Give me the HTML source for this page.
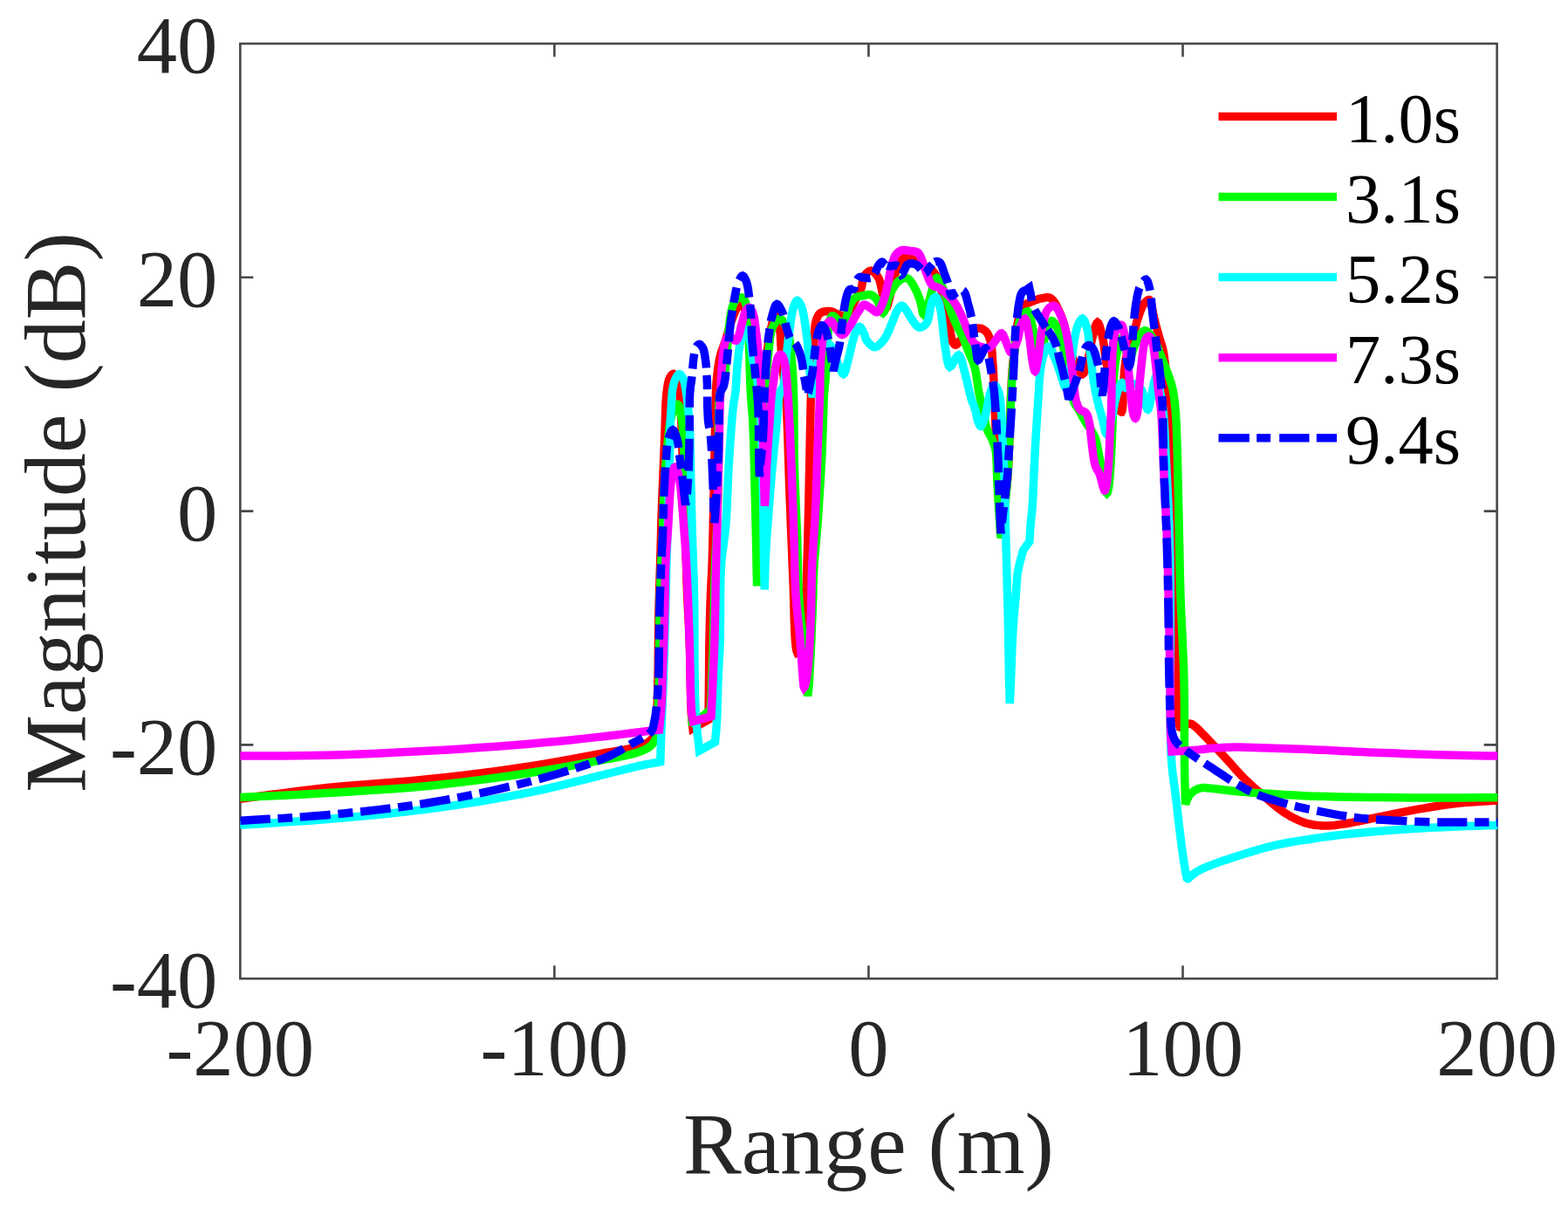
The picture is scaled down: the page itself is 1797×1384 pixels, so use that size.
<!DOCTYPE html>
<html lang="en">
<head>
<meta charset="utf-8">
<title>Magnitude vs Range</title>
<style>
html,body{margin:0;padding:0;background:#fff;}
body{width:1797px;height:1384px;overflow:hidden;}
svg{display:block;}
text{font-family:"Liberation Serif",serif;}
.tick{font-size:92.5px;fill:#262626;}
.lab{font-size:100px;fill:#262626;}
.leg{font-size:80.5px;fill:#000;}
.ax{stroke:#484848;stroke-width:2.6;fill:none;}
.c{fill:none;stroke-width:9.5;stroke-linejoin:miter;stroke-miterlimit:2;stroke-linecap:butt;}
</style>
</head>
<body>
<svg width="1797" height="1384" viewBox="0 0 1797 1384">
<rect x="0" y="0" width="1797" height="1384" fill="#fff"/>
<clipPath id="clip"><rect x="275.3" y="50" width="1441" height="1071.2"/></clipPath>
<rect class="ax" x="275.3" y="50" width="1440.3" height="1071.2"/>
<path class="ax" d="M635.375 1121.2V1106.2M635.375 50V65M995.45 1121.2V1106.2M995.45 50V65M1355.52 1121.2V1106.2M1355.52 50V65M275.3 853.4H290.3M1715.6 853.4H1700.6M275.3 585.6H290.3M1715.6 585.6H1700.6M275.3 317.8H290.3M1715.6 317.8H1700.6"/>
<g clip-path="url(#clip)">
<path class="c" stroke="#ff0000" d="M275.0 915.2L291.6 913.0L308.1 910.8L324.5 908.6L341.1 906.5L357.9 904.4L375.0 902.5L393.7 900.7L412.7 899.2L431.9 897.7L451.3 896.2L470.7 894.7L490.0 892.8L509.7 890.7L529.6 888.4L549.6 885.9L569.3 883.4L588.5 880.7L607.0 878.0L622.8 875.5L638.6 872.7L654.1 869.9L668.7 867.2L682.2 864.7L694.0 862.5L700.2 861.5L705.9 860.6L711.1 859.7L716.0 858.9L720.6 858.0L725.0 857.0L728.2 856.1L731.4 855.3L734.4 854.3L737.1 853.3L739.7 852.2L742.0 851.0L743.5 850.0L744.8 848.8L746.0 847.6L747.2 846.4L748.3 845.2L749.5 844.0L750.0 840.0L750.6 836.1L751.1 832.2L751.6 828.3L752.1 824.2L752.5 820.0L752.9 815.1L753.1 810.3L753.3 805.3L753.5 800.0L753.6 794.3L753.8 788.0L754.1 775.6L754.3 761.0L754.4 745.2L754.6 729.1L754.8 713.7L755.0 700.0L755.2 690.9L755.5 682.6L755.7 674.6L756.0 666.7L756.2 658.6L756.5 650.0L756.8 639.6L757.1 628.8L757.4 617.9L757.7 606.6L758.0 595.2L758.4 583.6L758.9 570.0L759.5 555.7L760.1 541.1L760.7 526.6L761.3 512.8L761.8 500.0L762.1 490.6L762.4 481.4L762.6 472.6L762.9 464.2L763.4 456.7L764.0 450.0L764.5 446.5L764.9 443.1L765.4 440.1L766.0 437.3L766.7 434.9L767.6 432.8L768.2 431.7L768.9 430.6L769.6 429.7L770.4 429.0L771.1 428.5L771.8 428.3L772.5 428.6L773.3 429.2L774.1 430.1L774.8 431.2L775.4 432.4L776.0 433.6L776.6 435.2L777.0 436.9L777.3 438.8L777.5 440.7L777.7 442.8L778.0 445.0L778.4 448.1L778.8 451.3L779.1 454.7L779.5 458.3L779.8 462.3L780.1 466.7L780.6 475.7L781.0 486.3L781.4 497.8L781.8 509.9L782.2 521.9L782.6 533.5L783.0 544.6L783.4 555.5L783.9 566.5L784.3 577.6L784.7 588.8L785.1 600.3L785.5 613.5L785.9 627.3L786.3 641.3L786.7 655.1L787.1 668.5L787.6 681.0L788.0 690.3L788.5 698.9L788.9 707.2L789.4 715.5L789.8 724.2L790.2 733.5L790.6 747.0L790.9 762.2L791.2 777.9L791.5 793.0L791.8 806.3L792.3 816.9L792.6 820.6L792.8 823.8L793.1 826.6L793.4 829.2L793.7 831.8L794.0 834.6L812.0 824.5L812.0 820.6L812.1 816.8L812.1 813.0L812.2 809.1L812.2 804.8L812.3 800.0L812.4 790.7L812.5 780.0L812.6 768.3L812.7 756.3L812.8 744.5L813.0 733.5L813.2 724.1L813.4 714.7L813.7 705.4L813.9 696.5L814.2 688.0L814.5 680.0L814.7 674.6L815.0 669.8L815.2 665.2L815.5 660.6L815.8 655.6L816.0 650.0L816.3 640.5L816.6 630.1L816.9 618.9L817.2 607.3L817.4 595.4L817.7 583.6L818.0 570.0L818.3 555.7L818.6 541.1L818.9 526.6L819.1 512.8L819.4 500.0L819.6 490.6L819.8 481.4L819.9 472.5L820.1 464.2L820.3 456.6L820.5 450.0L820.6 446.8L820.7 444.0L820.9 441.5L821.0 439.0L821.2 436.4L821.5 433.6L821.9 429.7L822.4 425.5L822.9 421.2L823.6 416.9L824.3 412.6L825.2 408.6L826.1 405.1L827.2 401.8L828.4 398.5L829.6 395.2L830.8 392.0L831.9 388.6L833.0 385.0L834.1 381.3L835.2 377.5L836.3 373.9L837.4 370.3L838.6 366.9L839.7 364.1L840.8 361.2L841.9 358.4L843.0 355.9L844.1 353.6L845.2 351.8L845.8 351.0L846.3 350.2L846.9 349.5L847.4 348.9L848.0 348.6L848.6 348.5L849.7 349.0L850.8 350.2L852.0 352.0L853.2 354.0L854.3 356.3L855.3 358.5L856.5 361.9L857.4 365.8L858.1 370.0L858.8 374.5L859.5 379.1L860.3 383.6L861.4 388.8L862.5 394.1L863.7 399.5L864.9 405.1L866.0 410.9L866.9 416.9L867.9 424.8L868.7 433.2L869.4 441.9L870.0 450.7L870.5 459.1L871.0 467.0L871.3 472.8L871.5 478.2L871.6 483.4L871.7 488.6L871.8 494.1L872.0 500.1L872.2 508.9L872.5 518.3L872.8 528.3L873.1 538.4L873.3 548.6L873.6 558.5L873.9 548.8L874.2 539.2L874.5 529.5L874.7 519.8L875.0 510.1L875.3 500.1L875.5 489.2L875.7 477.9L875.9 466.5L876.1 455.2L876.5 444.2L877.0 433.6L877.6 424.6L878.2 415.7L878.9 407.0L879.7 398.7L880.8 390.8L882.0 383.6L883.1 378.3L884.4 372.7L885.7 367.3L887.1 362.8L888.4 359.6L889.5 358.5L890.3 359.4L891.1 361.8L891.9 365.3L892.6 369.2L893.2 373.3L893.7 376.9L894.1 380.6L894.4 384.3L894.6 388.1L894.8 392.0L895.0 396.1L895.3 400.3L895.8 405.9L896.3 411.9L896.8 418.1L897.4 424.2L898.0 430.0L898.5 435.0L898.8 437.7L899.2 439.9L899.5 442.0L899.9 444.2L900.2 446.7L900.5 450.0L901.3 463.2L902.1 481.2L902.9 502.2L903.6 524.6L904.3 546.7L905.0 566.9L905.7 583.9L906.3 600.6L907.0 617.2L907.7 633.4L908.3 649.4L909.0 665.0L909.5 679.5L909.9 694.8L910.3 709.8L910.8 723.6L911.5 735.1L912.5 743.5L912.9 745.4L913.4 747.0L913.9 748.3L914.4 749.5L914.9 750.7L915.4 752.0L916.2 746.7L917.0 741.3L917.8 735.9L918.6 730.6L919.3 725.3L920.0 720.0L920.6 714.9L921.2 709.9L921.7 704.9L922.2 700.0L922.6 695.0L923.0 690.0L923.3 685.2L923.6 680.6L923.8 676.0L924.1 671.2L924.3 666.0L924.5 660.0L924.9 647.6L925.4 633.2L925.8 617.3L926.2 600.6L926.6 583.6L927.0 566.9L927.4 547.0L927.9 525.0L928.3 502.6L928.7 481.6L929.1 463.5L929.5 450.0L929.6 446.5L929.8 443.7L929.9 441.3L930.1 439.1L930.2 436.6L930.4 433.6L930.7 427.6L931.1 420.7L931.5 413.3L932.0 405.7L932.4 398.5L932.9 391.9L933.2 387.2L933.4 382.6L933.7 378.1L934.0 373.9L934.6 370.2L935.4 366.9L936.0 365.1L936.7 363.4L937.4 361.9L938.2 360.6L939.2 359.5L940.4 358.5L942.0 357.7L943.9 357.1L946.0 356.8L948.1 356.6L950.2 356.6L952.1 356.8L953.6 357.1L955.0 357.7L956.3 358.3L957.7 359.0L959.0 359.7L960.4 360.2L961.8 360.7L963.2 361.3L964.6 361.8L966.1 362.1L967.4 362.2L968.8 361.9L970.9 360.3L973.0 357.6L975.0 354.2L977.0 350.4L978.8 346.7L980.5 343.5L981.8 341.2L983.0 338.9L984.2 336.7L985.3 334.5L986.2 332.3L987.1 330.1L987.7 327.8L988.1 325.5L988.4 323.1L988.7 320.8L989.2 318.7L990.1 316.8L991.2 315.2L992.5 313.7L993.9 312.3L995.5 311.1L997.0 310.3L998.4 310.1L999.9 310.5L1001.4 311.5L1002.9 313.0L1004.3 314.7L1005.7 316.6L1006.8 318.4L1007.8 320.5L1008.6 322.9L1009.2 325.4L1009.8 328.1L1010.3 330.8L1010.9 333.5L1011.6 337.1L1012.2 341.4L1012.9 345.8L1013.5 349.7L1014.3 352.4L1015.1 353.5L1016.3 352.1L1017.7 348.2L1019.1 342.7L1020.7 336.5L1022.1 330.3L1023.5 325.1L1024.6 320.9L1025.5 316.6L1026.4 312.4L1027.4 308.4L1028.6 304.8L1030.1 301.8L1031.3 300.0L1032.7 298.3L1034.1 296.8L1035.6 295.6L1037.1 294.7L1038.5 294.2L1039.6 294.2L1040.7 294.4L1041.8 294.9L1042.9 295.4L1044.0 296.1L1045.2 296.7L1047.0 297.6L1048.8 298.6L1050.8 299.8L1052.8 301.0L1054.8 302.2L1056.8 303.4L1059.0 304.6L1061.4 305.8L1063.8 306.9L1066.1 308.3L1068.2 309.8L1070.2 311.8L1072.4 315.0L1074.3 318.8L1076.0 323.1L1077.4 327.7L1078.8 332.3L1080.2 336.8L1081.6 341.6L1082.8 346.7L1083.9 351.8L1084.9 356.9L1085.9 362.0L1086.9 366.9L1087.7 371.5L1088.5 376.3L1089.2 381.1L1090.0 385.4L1090.9 389.2L1091.9 391.9L1092.4 392.8L1092.9 393.6L1093.5 394.2L1094.0 394.8L1094.6 395.1L1095.2 395.2L1096.0 395.0L1096.8 394.3L1097.6 393.4L1098.5 392.3L1099.4 391.2L1100.3 390.2L1101.5 388.9L1102.8 387.5L1104.1 386.0L1105.5 384.5L1107.0 383.1L1108.6 381.9L1110.6 380.6L1112.9 379.2L1115.2 378.0L1117.6 376.9L1119.9 376.2L1122.0 376.0L1123.5 376.2L1125.1 376.6L1126.5 377.3L1127.9 378.1L1129.2 379.1L1130.3 380.2L1131.5 381.7L1132.4 383.4L1133.3 385.3L1134.0 387.4L1134.7 389.6L1135.3 391.9L1136.0 395.4L1136.6 399.4L1136.9 403.5L1137.2 407.9L1137.5 412.4L1137.8 416.9L1138.2 422.1L1138.5 427.2L1138.7 432.6L1139.0 438.1L1139.2 444.0L1139.5 450.3L1139.9 460.1L1140.3 470.8L1140.7 482.1L1141.1 493.8L1141.5 505.4L1142.0 516.8L1142.5 528.3L1143.0 540.3L1143.6 552.2L1144.1 563.7L1144.7 574.3L1145.3 583.6L1145.7 588.5L1146.0 592.8L1146.4 596.9L1146.8 600.7L1147.1 604.6L1147.5 608.6L1148.0 604.5L1148.4 600.4L1148.9 596.3L1149.3 592.2L1149.8 588.0L1150.3 583.6L1151.0 578.4L1151.7 573.1L1152.5 567.6L1153.2 562.0L1153.9 556.2L1154.5 550.2L1155.1 542.4L1155.6 534.3L1156.0 525.8L1156.3 517.2L1156.7 508.6L1157.0 500.1L1157.3 491.6L1157.6 482.9L1157.9 474.3L1158.1 465.8L1158.4 457.6L1158.7 450.0L1159.0 444.5L1159.2 439.2L1159.5 434.1L1159.8 429.2L1160.1 424.5L1160.5 420.0L1160.8 416.5L1161.2 413.3L1161.6 410.2L1162.0 407.1L1162.5 403.8L1162.9 400.3L1163.5 395.1L1164.0 389.4L1164.5 383.4L1165.2 377.5L1166.0 371.9L1167.0 366.9L1167.9 363.6L1168.8 360.4L1169.7 357.4L1170.9 354.7L1172.2 352.2L1173.7 350.2L1175.1 348.9L1176.7 347.9L1178.4 347.2L1180.2 346.5L1182.0 345.9L1183.7 345.2L1185.3 344.5L1187.0 343.8L1188.7 343.2L1190.3 342.6L1192.0 342.2L1193.7 341.8L1195.4 341.5L1197.1 341.1L1198.9 340.8L1200.6 340.7L1202.2 340.9L1203.8 341.5L1205.8 343.0L1207.8 345.3L1209.6 348.0L1211.3 351.2L1213.0 354.5L1214.5 357.8L1216.3 362.1L1217.8 366.9L1219.3 371.9L1220.6 377.0L1221.8 382.0L1223.1 386.7L1224.1 390.5L1224.9 394.2L1225.7 397.9L1226.6 401.4L1227.6 404.9L1228.9 408.4L1230.5 412.4L1232.5 416.8L1234.6 421.3L1236.7 425.1L1238.7 427.7L1240.5 428.6L1242.0 427.5L1243.3 424.8L1244.5 421.0L1245.7 416.7L1246.7 412.3L1247.7 408.4L1248.6 404.8L1249.3 401.2L1249.9 397.5L1250.5 393.8L1251.2 390.2L1252.0 386.7L1252.9 383.3L1253.8 379.5L1254.8 375.7L1255.8 372.5L1256.8 370.3L1257.8 369.4L1258.8 370.2L1259.8 372.4L1260.8 375.6L1261.8 379.3L1262.8 383.1L1263.6 386.7L1264.5 391.1L1265.2 395.8L1265.8 400.7L1266.4 405.7L1267.1 410.7L1267.9 415.6L1268.9 420.5L1270.1 425.3L1271.3 430.2L1272.5 435.1L1273.8 439.8L1275.1 444.5L1276.3 449.0L1277.5 453.8L1278.7 458.5L1279.9 462.8L1281.2 466.5L1282.4 469.1L1282.9 469.9L1283.4 470.6L1283.9 471.3L1284.4 471.7L1284.9 472.0L1285.3 472.0L1286.1 470.3L1286.6 466.5L1286.9 461.2L1287.0 455.3L1287.2 449.5L1287.4 444.5L1287.6 440.7L1287.8 437.1L1288.0 433.5L1288.3 429.9L1288.5 426.4L1288.9 422.8L1289.3 419.1L1289.8 415.4L1290.3 411.7L1291.0 408.0L1291.7 404.5L1292.5 401.2L1293.3 398.6L1294.3 396.2L1295.3 393.9L1296.3 391.6L1297.4 389.3L1298.3 386.7L1299.3 383.3L1300.2 379.7L1301.1 376.0L1302.0 372.2L1302.9 368.5L1304.0 365.0L1305.1 361.8L1306.2 358.6L1307.4 355.4L1308.6 352.4L1309.9 349.8L1311.3 347.7L1312.2 346.6L1313.2 345.5L1314.3 344.5L1315.3 343.8L1316.2 343.4L1317.1 343.4L1318.4 344.8L1319.4 347.8L1320.3 351.9L1321.1 356.4L1321.9 361.0L1322.8 365.0L1323.8 368.7L1324.7 372.4L1325.7 376.1L1326.7 379.8L1327.7 383.3L1328.6 386.7L1329.4 389.2L1330.1 391.6L1330.9 393.8L1331.6 396.1L1332.3 398.5L1332.9 401.2L1333.7 405.4L1334.4 409.9L1335.0 414.6L1335.5 419.7L1336.1 424.8L1336.6 430.1L1337.3 436.8L1337.9 443.8L1338.5 451.1L1339.1 458.5L1339.7 466.0L1340.2 473.4L1340.7 481.1L1341.2 488.9L1341.7 496.8L1342.2 504.7L1342.6 512.4L1343.0 520.0L1343.3 526.6L1343.6 532.8L1343.9 538.8L1344.1 545.2L1344.4 552.1L1344.6 560.0L1344.9 576.5L1345.2 595.9L1345.4 617.2L1345.6 639.1L1345.8 660.8L1346.2 681.0L1346.7 698.5L1347.3 716.2L1347.9 733.5L1348.5 750.2L1349.1 765.8L1349.5 780.0L1349.7 788.9L1349.7 797.4L1349.7 805.5L1349.8 812.9L1350.0 819.5L1350.5 825.0L1350.8 827.3L1351.2 829.2L1351.7 831.0L1352.1 832.6L1352.6 834.3L1353.0 836.0L1353.8 835.1L1354.6 834.2L1355.4 833.3L1356.2 832.4L1357.1 831.6L1358.0 831.0L1359.0 830.5L1360.0 830.0L1361.1 829.6L1362.2 829.3L1363.3 829.1L1364.4 829.2L1365.5 829.5L1366.6 830.1L1367.7 830.8L1368.8 831.7L1369.9 832.6L1371.0 833.5L1372.2 834.5L1373.3 835.6L1374.5 836.8L1375.6 838.0L1376.9 839.4L1378.4 840.9L1381.6 844.1L1385.3 848.0L1389.3 852.2L1393.5 856.6L1397.8 861.1L1401.8 865.4L1405.7 869.7L1409.6 874.0L1413.4 878.4L1417.3 882.8L1421.2 887.0L1425.2 891.1L1429.0 894.8L1432.9 898.4L1436.7 902.0L1440.6 905.4L1444.6 908.8L1448.5 912.2L1452.3 915.5L1456.2 918.8L1460.1 922.1L1464.0 925.2L1467.9 928.2L1471.9 930.9L1475.7 933.3L1479.5 935.5L1483.4 937.6L1487.4 939.5L1491.3 941.2L1495.3 942.6L1499.1 943.7L1503.0 944.5L1506.9 945.2L1510.8 945.6L1514.7 945.9L1518.6 946.1L1522.4 946.1L1526.2 945.8L1530.0 945.5L1533.9 944.9L1537.8 944.3L1542.0 943.7L1547.4 942.8L1553.0 941.7L1558.8 940.5L1564.8 939.3L1570.9 938.0L1577.1 936.7L1584.5 935.2L1592.2 933.6L1600.0 932.0L1608.0 930.4L1615.9 928.8L1623.8 927.4L1631.6 926.1L1639.3 924.8L1647.1 923.5L1654.9 922.4L1662.7 921.3L1670.5 920.4L1678.2 919.6L1686.0 919.0L1693.7 918.4L1701.5 917.9L1709.2 917.4L1717.0 916.9"/>
<path class="c" stroke="#00ff00" d="M275.0 913.6L291.6 912.8L308.1 912.0L324.6 911.2L341.2 910.4L357.9 909.5L375.0 908.5L393.7 907.4L412.7 906.3L432.0 905.1L451.3 903.8L470.7 902.3L490.0 900.5L509.7 898.4L529.6 896.1L549.6 893.6L569.3 891.0L588.5 888.3L607.0 885.5L622.9 883.0L638.9 880.2L654.5 877.4L669.3 874.6L682.6 872.1L694.0 870.0L699.3 869.0L704.1 868.2L708.4 867.4L712.4 866.6L716.3 865.9L720.0 865.0L722.8 864.3L725.5 863.6L728.0 862.9L730.4 862.2L732.8 861.4L735.0 860.5L736.9 859.7L738.7 858.9L740.4 858.0L742.1 857.1L743.6 856.1L745.0 855.0L746.1 854.0L747.2 853.1L748.1 852.0L749.0 850.9L749.8 849.8L750.5 848.5L751.2 847.0L751.7 845.4L752.1 843.7L752.4 842.0L752.7 840.1L753.0 838.0L753.4 834.6L753.6 830.7L753.8 826.6L753.9 822.3L754.0 817.8L754.2 813.4L754.4 808.3L754.6 803.2L754.9 797.9L755.1 792.4L755.2 786.5L755.4 780.0L755.6 768.4L755.6 755.2L755.6 741.0L755.7 726.6L755.7 712.6L755.9 700.0L756.1 690.9L756.4 682.1L756.7 673.6L757.0 665.5L757.3 657.6L757.6 650.0L757.9 644.2L758.2 638.7L758.5 633.5L758.7 628.3L759.0 622.8L759.3 617.0L759.6 609.3L759.8 601.1L760.0 592.6L760.3 584.0L760.5 575.4L760.9 566.9L761.3 558.5L761.8 550.0L762.3 541.6L762.9 533.2L763.5 524.9L764.3 516.8L765.0 509.3L765.8 501.6L766.6 494.0L767.5 486.8L768.7 480.4L770.1 475.0L771.1 472.3L772.2 469.6L773.4 467.1L774.7 465.1L775.8 463.8L776.8 463.4L777.9 464.4L778.8 466.8L779.7 470.3L780.4 474.4L781.1 478.9L781.8 483.4L782.8 492.0L783.5 501.9L783.9 512.9L784.3 524.8L784.6 537.3L785.1 550.2L785.8 570.2L786.6 592.7L787.3 616.5L788.1 640.1L788.7 662.1L789.3 681.0L789.6 691.0L789.9 699.8L790.2 708.0L790.5 716.0L790.7 724.3L791.0 733.5L791.3 747.1L791.6 762.5L791.9 778.4L792.2 793.6L792.5 806.9L792.8 817.0L792.9 820.0L793.0 822.5L793.2 824.7L793.3 826.8L793.4 828.8L793.5 831.0L814.5 812.5L814.7 808.9L814.8 805.4L815.0 801.9L815.2 798.3L815.3 794.3L815.5 790.0L815.8 782.2L816.1 773.5L816.5 764.0L816.8 754.1L817.2 743.8L817.5 733.5L817.8 720.3L818.2 706.1L818.5 691.4L818.8 676.8L819.1 662.9L819.5 650.0L819.9 641.1L820.3 632.8L820.7 624.8L821.1 616.9L821.5 608.9L821.9 600.3L822.2 589.8L822.5 579.0L822.8 568.0L823.0 556.7L823.3 545.2L823.5 533.5L823.6 519.1L823.6 503.1L823.5 486.8L823.7 471.6L824.2 458.9L825.2 450.0L825.7 448.2L826.2 446.9L826.8 445.8L827.4 444.8L828.0 443.6L828.5 442.0L829.4 437.8L830.2 432.6L830.9 426.8L831.5 420.7L832.1 414.5L832.7 408.6L833.2 402.7L833.7 396.7L834.1 390.6L834.5 384.7L835.0 378.9L835.6 373.5L836.2 369.2L836.7 364.9L837.3 360.8L838.1 356.9L838.9 353.3L839.9 350.2L840.6 348.4L841.4 346.7L842.3 345.1L843.2 343.8L844.2 342.6L845.2 341.8L846.0 341.4L846.9 341.0L847.8 340.8L848.7 340.7L849.5 340.8L850.3 341.0L851.1 341.5L851.9 342.2L852.6 343.2L853.3 344.3L853.9 345.5L854.4 346.8L855.2 349.3L855.7 352.4L856.1 355.7L856.3 359.3L856.6 363.1L856.9 366.9L857.3 371.9L857.6 377.2L857.9 382.7L858.1 388.4L858.4 394.3L858.6 400.3L858.9 408.1L859.1 416.5L859.4 425.2L859.6 433.8L859.9 442.2L860.3 450.0L860.7 455.8L861.1 461.1L861.5 466.2L862.0 471.4L862.4 477.0L862.8 483.4L863.3 495.0L863.8 508.1L864.2 522.2L864.6 537.0L864.9 552.0L865.3 566.9L865.7 583.7L866.1 600.9L866.5 618.5L866.9 636.2L867.2 653.9L867.6 671.5L867.8 662.6L868.0 653.8L868.1 645.0L868.3 636.0L868.5 626.8L868.8 617.0L869.2 604.1L869.7 590.5L870.3 576.4L870.9 562.0L871.4 547.6L872.0 533.5L872.5 518.6L873.0 502.4L873.4 486.2L874.0 471.3L874.6 458.8L875.3 450.0L875.6 448.2L875.8 446.9L876.1 445.9L876.4 444.8L876.7 443.6L877.0 442.0L877.6 436.8L878.3 430.1L878.9 422.5L879.6 414.6L880.3 407.0L881.1 400.3L881.6 395.6L882.1 391.0L882.6 386.5L883.2 382.4L884.1 378.6L885.3 375.2L886.4 372.9L887.8 370.6L889.2 368.5L890.8 366.8L892.3 365.6L893.7 365.2L895.2 365.7L896.7 367.1L898.1 369.2L899.5 371.6L900.9 374.2L902.0 376.9L903.4 381.1L904.4 386.0L905.2 391.4L905.9 397.1L906.4 402.9L907.0 408.6L907.6 415.0L908.1 421.5L908.6 428.2L908.9 435.1L909.2 442.5L909.5 450.3L909.8 462.5L909.9 475.9L910.0 490.1L910.0 504.7L910.1 519.3L910.4 533.5L910.8 547.5L911.4 561.7L912.0 575.9L912.6 590.0L913.2 603.7L913.7 617.0L914.0 628.2L914.2 639.2L914.4 649.9L914.6 660.5L914.9 670.8L915.4 681.0L916.1 690.1L916.9 698.9L917.8 707.7L918.7 716.3L919.6 724.9L920.4 733.5L921.1 742.3L921.8 751.4L922.5 760.6L923.1 769.2L923.7 777.1L924.3 783.6L924.6 786.4L924.8 788.9L925.1 791.1L925.3 793.2L925.6 795.3L925.8 797.5L926.0 795.3L926.3 793.3L926.5 791.3L926.7 789.1L927.0 786.6L927.2 783.6L927.8 773.5L928.5 760.2L929.3 744.9L930.0 728.9L930.6 713.5L931.2 700.0L931.5 690.9L931.8 682.4L932.0 674.2L932.2 666.2L932.5 658.2L932.9 650.0L933.4 641.9L934.1 633.9L934.8 625.9L935.6 617.8L936.3 609.3L937.0 600.3L937.9 587.5L938.8 573.7L939.7 559.3L940.6 544.7L941.4 530.4L942.1 516.8L942.6 504.7L943.0 492.3L943.4 480.1L943.8 468.6L944.1 458.4L944.6 450.0L944.9 446.7L945.1 444.0L945.4 441.7L945.7 439.3L945.9 436.7L946.2 433.6L946.6 426.6L946.8 418.2L947.1 409.0L947.4 399.7L947.9 391.0L948.7 383.6L949.3 379.0L949.9 374.3L950.6 369.8L951.5 366.0L952.5 363.3L953.8 361.9L954.7 361.9L955.8 362.5L956.9 363.5L958.1 364.7L959.3 365.9L960.4 366.9L961.5 367.9L962.7 369.1L963.9 370.3L965.0 371.3L966.1 371.9L967.1 371.9L968.5 370.3L969.6 367.0L970.6 362.7L971.5 358.1L972.6 353.7L973.8 350.2L974.8 348.3L975.8 346.5L976.8 344.9L977.9 343.4L979.1 342.1L980.5 341.0L982.0 340.2L983.6 339.7L985.4 339.3L987.2 339.0L988.9 338.8L990.5 338.5L991.8 338.2L993.0 337.9L994.2 337.6L995.3 337.4L996.5 337.4L997.6 337.6L998.9 338.1L1000.2 338.8L1001.5 339.8L1002.8 340.9L1004.0 342.2L1005.1 343.5L1006.4 345.9L1007.6 349.0L1008.7 352.4L1009.7 355.4L1010.7 357.7L1011.8 358.5L1013.1 357.3L1014.5 354.2L1015.8 350.0L1017.2 345.2L1018.6 340.6L1020.1 336.8L1021.4 334.3L1022.7 331.8L1024.1 329.4L1025.5 327.2L1026.9 325.2L1028.5 323.5L1029.8 322.3L1031.2 321.1L1032.7 320.1L1034.1 319.3L1035.5 318.7L1036.8 318.4L1037.7 318.4L1038.5 318.5L1039.4 318.7L1040.2 319.0L1041.0 319.5L1041.8 320.1L1043.3 321.6L1044.7 323.6L1046.2 325.9L1047.6 328.5L1049.0 331.1L1050.2 333.5L1051.2 335.7L1052.1 337.9L1053.0 340.1L1053.8 342.3L1054.5 344.6L1055.2 346.8L1055.8 349.3L1056.3 352.2L1056.8 355.1L1057.3 357.7L1057.8 359.5L1058.5 360.2L1059.5 359.4L1060.6 357.2L1061.8 354.1L1063.0 350.4L1064.2 346.7L1065.2 343.5L1066.1 340.4L1067.0 337.1L1067.8 333.8L1068.6 330.6L1069.4 327.6L1070.2 325.1L1070.7 323.6L1071.2 322.1L1071.7 320.7L1072.3 319.5L1072.8 318.7L1073.5 318.4L1074.7 319.1L1076.1 321.1L1077.6 323.9L1079.1 327.1L1080.6 330.5L1081.9 333.5L1083.2 336.7L1084.3 340.0L1085.4 343.4L1086.4 346.9L1087.5 350.2L1088.6 353.5L1089.7 356.4L1090.7 359.2L1091.8 362.0L1092.9 364.7L1094.0 367.5L1095.2 370.2L1096.5 373.0L1097.9 375.8L1099.4 378.6L1100.9 381.3L1102.3 384.1L1103.6 386.9L1104.8 389.7L1105.9 392.4L1107.1 395.2L1108.1 398.0L1109.2 400.8L1110.3 403.6L1111.4 406.3L1112.6 409.0L1113.8 411.6L1114.9 414.3L1115.9 417.2L1116.9 420.3L1118.0 424.8L1118.9 429.8L1119.6 435.0L1120.4 440.3L1121.1 445.5L1122.0 450.3L1122.8 454.1L1123.6 457.7L1124.5 461.3L1125.4 464.8L1126.2 468.2L1127.0 471.7L1127.7 475.1L1128.3 478.6L1128.9 482.1L1129.5 485.5L1130.2 488.7L1131.1 491.7L1132.0 493.9L1133.0 495.8L1134.0 497.7L1135.1 499.6L1136.1 501.4L1137.0 503.4L1137.8 505.5L1138.6 507.5L1139.4 509.6L1140.1 511.8L1140.7 514.2L1141.2 516.8L1141.8 521.4L1142.1 526.7L1142.3 532.3L1142.4 538.2L1142.6 544.2L1142.8 550.2L1143.2 557.0L1143.6 564.2L1144.0 571.5L1144.4 578.7L1144.9 585.6L1145.3 591.9L1145.6 596.7L1145.9 601.9L1146.2 606.9L1146.5 611.2L1146.8 614.2L1147.2 615.3L1147.6 614.2L1148.1 611.2L1148.7 607.0L1149.2 601.9L1149.8 596.7L1150.3 591.9L1151.0 585.7L1151.8 579.0L1152.5 572.0L1153.2 564.8L1153.9 557.5L1154.5 550.2L1155.0 542.1L1155.5 533.8L1155.9 525.4L1156.3 516.9L1156.6 508.4L1157.0 500.0L1157.4 491.5L1157.7 482.9L1158.0 474.4L1158.3 465.9L1158.6 457.7L1159.0 450.0L1159.3 444.1L1159.6 438.5L1159.9 433.0L1160.3 427.7L1160.7 422.3L1161.2 416.9L1161.8 411.3L1162.4 405.5L1163.0 399.7L1163.7 394.1L1164.5 388.7L1165.4 383.6L1166.1 379.8L1166.7 376.0L1167.4 372.4L1168.2 369.1L1169.2 366.1L1170.4 363.5L1171.5 361.8L1172.8 360.2L1174.1 358.7L1175.5 357.6L1176.8 356.9L1177.9 356.8L1179.2 358.1L1180.3 361.0L1181.3 364.8L1182.1 369.1L1182.9 373.3L1183.7 376.9L1184.3 379.6L1184.8 382.2L1185.3 384.8L1185.8 387.3L1186.4 389.7L1187.1 391.9L1187.8 393.7L1188.6 395.6L1189.5 397.4L1190.4 398.9L1191.2 400.0L1192.1 400.3L1193.2 399.4L1194.3 397.1L1195.4 393.9L1196.5 390.3L1197.6 386.7L1198.7 383.6L1199.8 380.6L1200.9 377.2L1201.9 373.7L1203.0 370.8L1204.2 368.6L1205.4 367.7L1206.5 368.0L1207.6 369.2L1208.8 370.9L1210.0 372.9L1211.1 374.9L1212.1 376.9L1213.1 379.1L1214.0 381.3L1214.8 383.7L1215.5 386.3L1216.3 389.0L1217.1 391.9L1218.3 396.7L1219.6 402.0L1220.9 407.7L1222.1 413.6L1223.4 419.5L1224.5 425.3L1225.5 431.3L1226.4 437.7L1227.3 444.1L1228.2 450.2L1229.2 455.6L1230.5 460.0L1231.3 461.9L1232.2 463.4L1233.1 464.8L1234.0 466.1L1235.0 467.5L1236.0 469.0L1237.2 471.2L1238.5 473.5L1239.8 475.9L1241.2 478.4L1242.6 480.9L1244.0 483.4L1245.7 486.1L1247.6 488.7L1249.5 491.3L1251.3 494.1L1253.0 496.9L1254.5 500.0L1255.9 503.8L1256.9 507.7L1257.8 511.9L1258.6 516.2L1259.4 520.6L1260.3 525.1L1261.4 530.7L1262.6 536.8L1263.8 543.1L1265.0 549.1L1266.0 554.4L1266.9 558.5L1267.2 560.1L1267.5 561.6L1267.8 563.0L1268.0 564.1L1268.3 564.9L1268.6 565.2L1268.9 564.9L1269.3 564.1L1269.6 563.0L1270.0 561.6L1270.3 560.0L1270.6 558.5L1271.1 555.3L1271.5 551.5L1271.9 547.2L1272.2 542.7L1272.5 538.1L1272.8 533.5L1273.1 528.3L1273.4 522.9L1273.7 517.5L1274.0 511.8L1274.2 506.0L1274.5 500.0L1274.8 492.0L1275.1 483.2L1275.4 474.2L1275.7 465.4L1275.9 457.1L1276.1 450.0L1276.2 446.2L1276.2 442.8L1276.2 439.7L1276.2 436.6L1276.4 433.4L1276.6 430.0L1277.0 425.4L1277.6 420.4L1278.2 415.3L1279.0 410.2L1279.9 405.5L1280.9 401.2L1281.7 398.1L1282.7 394.9L1283.7 391.8L1284.7 389.1L1285.7 387.3L1286.7 386.7L1287.9 388.7L1289.1 393.5L1290.2 399.7L1291.4 405.9L1292.6 410.7L1293.9 412.7L1295.0 411.7L1296.1 409.2L1297.2 405.5L1298.4 401.4L1299.7 397.3L1301.2 393.9L1302.8 390.9L1304.5 387.6L1306.3 384.4L1308.2 381.6L1310.1 379.6L1312.0 378.8L1313.8 379.2L1315.7 380.7L1317.6 382.7L1319.5 385.2L1321.3 387.7L1322.8 390.0L1324.1 392.2L1325.2 394.4L1326.2 396.8L1327.1 399.2L1328.1 401.6L1329.0 404.0L1330.0 406.3L1330.9 408.7L1331.8 411.0L1332.7 413.3L1333.6 415.7L1334.5 418.0L1335.4 420.3L1336.3 422.7L1337.2 425.0L1338.1 427.3L1339.0 429.7L1339.8 432.0L1340.6 434.3L1341.3 436.5L1342.1 438.7L1342.7 441.0L1343.4 443.4L1344.0 446.0L1344.7 449.8L1345.4 453.8L1345.9 458.1L1346.5 462.7L1346.9 467.8L1347.4 473.4L1348.2 485.6L1348.7 500.1L1349.2 516.1L1349.6 533.0L1350.0 550.1L1350.4 566.9L1350.8 585.4L1351.2 604.4L1351.6 623.7L1352.0 643.1L1352.4 662.3L1352.9 681.0L1353.5 697.9L1354.3 714.5L1355.1 730.9L1355.8 747.2L1356.5 763.6L1357.0 780.0L1357.3 797.1L1357.4 814.9L1357.4 832.7L1357.4 849.9L1357.5 865.8L1357.6 880.0L1357.7 888.0L1357.9 895.2L1358.1 901.9L1358.2 908.3L1358.4 914.8L1358.6 921.5L1359.1 920.1L1359.7 918.6L1360.2 917.1L1360.7 915.7L1361.3 914.3L1362.0 913.0L1362.7 912.0L1363.3 911.0L1364.1 910.0L1364.9 909.2L1365.7 908.3L1366.7 907.5L1368.0 906.5L1369.4 905.6L1371.0 904.7L1372.6 903.9L1374.3 903.3L1376.1 902.8L1378.2 902.5L1380.4 902.5L1382.7 902.7L1385.0 902.9L1387.5 903.2L1390.1 903.5L1393.6 903.8L1397.2 904.3L1400.9 904.8L1404.9 905.3L1409.1 905.8L1413.5 906.3L1420.4 906.9L1427.9 907.5L1435.8 908.2L1444.0 908.7L1452.2 909.3L1460.2 909.8L1467.8 910.3L1475.2 910.7L1482.6 911.1L1490.2 911.5L1498.3 911.9L1507.0 912.2L1520.6 912.6L1535.4 912.9L1551.1 913.2L1567.3 913.5L1583.9 913.6L1600.4 913.8L1619.1 913.9L1638.3 913.9L1657.9 913.9L1677.7 913.9L1697.4 913.8L1717.0 913.8"/>
<path class="c" stroke="#00ffff" d="M275.0 945.3L291.6 944.2L308.1 943.2L324.6 942.1L341.2 941.0L357.9 939.9L375.0 938.5L393.7 936.9L412.7 935.3L432.0 933.5L451.3 931.5L470.7 929.4L490.0 927.0L509.7 924.3L529.6 921.4L549.6 918.2L569.3 914.9L588.5 911.4L607.0 907.8L622.6 904.5L638.1 900.9L653.2 897.2L667.8 893.6L681.4 890.1L694.0 887.0L702.2 885.0L710.1 883.0L717.5 881.2L724.4 879.4L730.9 877.9L737.0 876.5L740.7 875.7L744.1 875.1L747.4 874.5L750.5 874.0L753.6 873.5L756.8 872.9L756.9 869.2L757.0 865.6L757.1 862.0L757.2 858.3L757.4 854.4L757.5 850.3L757.7 844.1L758.0 837.4L758.2 830.3L758.5 823.2L758.8 816.3L759.0 810.0L759.2 805.6L759.3 801.6L759.5 797.7L759.7 793.8L759.8 789.6L760.0 785.0L760.3 777.6L760.6 769.7L760.9 761.2L761.2 752.3L761.5 743.0L761.8 733.5L762.1 720.6L762.5 706.8L762.8 692.4L763.1 677.9L763.4 663.6L763.8 650.0L764.1 638.5L764.5 627.3L764.9 616.3L765.2 605.5L765.6 594.6L765.9 583.6L766.2 572.2L766.5 560.6L766.8 548.9L767.1 537.5L767.4 526.7L767.6 516.8L767.7 510.0L767.9 503.5L768.0 497.2L768.1 491.4L768.2 486.0L768.4 481.0L768.5 478.2L768.7 475.6L768.8 473.3L769.0 470.9L769.1 468.6L769.3 466.0L769.5 462.6L769.7 459.0L769.9 455.3L770.2 451.6L770.5 448.2L771.0 445.0L771.4 442.8L771.9 440.7L772.4 438.7L772.9 436.9L773.6 435.1L774.3 433.6L774.9 432.5L775.6 431.3L776.3 430.3L777.0 429.4L777.8 428.8L778.5 428.6L779.3 428.8L780.1 429.5L780.9 430.4L781.6 431.5L782.4 432.8L783.0 434.0L783.7 435.8L784.3 437.7L784.8 439.9L785.2 442.2L785.6 444.6L786.0 447.0L786.5 450.1L787.0 453.4L787.4 456.8L787.8 460.3L788.1 463.7L788.5 467.0L788.8 469.7L789.1 472.2L789.4 474.6L789.7 477.2L790.0 480.0L790.2 483.4L790.6 491.9L790.9 502.3L791.1 513.9L791.3 526.1L791.6 538.4L791.8 550.0L792.1 561.2L792.3 572.4L792.6 583.6L792.9 594.8L793.2 605.9L793.5 617.0L793.8 627.5L794.2 637.6L794.5 647.6L794.9 658.0L795.2 669.0L795.5 681.0L795.8 701.6L795.9 725.4L796.0 750.6L796.1 775.4L796.5 798.1L797.2 817.0L797.8 825.6L798.5 833.2L799.2 840.1L800.0 846.7L800.8 853.3L801.5 860.2L819.6 850.1L819.9 846.0L820.3 842.0L820.7 838.0L821.0 833.9L821.3 829.6L821.6 825.0L821.9 818.3L822.1 811.0L822.3 803.4L822.5 795.5L822.7 787.7L823.0 780.0L823.3 772.5L823.7 765.1L824.1 757.6L824.5 750.0L824.9 742.0L825.2 733.5L825.4 720.7L825.5 706.7L825.5 691.9L825.6 677.1L825.8 662.9L826.4 650.0L827.1 641.1L828.0 632.7L829.1 624.8L830.1 616.9L831.1 608.9L831.9 600.3L832.6 589.7L833.2 578.8L833.6 567.5L834.1 556.1L834.6 544.7L835.2 533.5L835.9 521.8L836.7 509.6L837.6 497.3L838.5 485.6L839.3 475.2L840.2 466.7L840.6 463.4L841.1 460.6L841.5 458.2L841.9 455.8L842.3 453.2L842.7 450.3L843.2 445.4L843.6 439.9L843.9 434.0L844.3 428.1L844.7 422.3L845.2 416.9L845.7 412.4L846.1 408.0L846.6 403.7L847.2 399.6L847.8 395.6L848.6 391.9L849.3 388.8L850.1 385.5L850.9 382.3L851.8 379.6L852.7 377.7L853.6 376.9L854.4 377.3L855.3 378.5L856.2 380.3L857.0 382.4L857.9 384.7L858.6 386.9L859.5 390.4L860.3 394.3L860.9 398.6L861.5 403.0L862.1 407.5L862.8 411.9L863.7 416.5L864.7 421.0L865.8 425.6L866.8 430.3L867.8 435.2L868.6 440.3L869.4 446.8L870.1 453.5L870.6 460.4L871.1 467.6L871.6 475.3L872.0 483.4L872.6 495.8L873.1 509.5L873.5 524.0L873.9 538.7L874.2 553.2L874.5 566.9L874.7 578.6L874.9 590.3L875.0 601.7L875.1 612.8L875.3 623.5L875.4 633.6L875.5 641.1L875.7 648.3L875.8 655.2L875.9 661.9L876.1 668.6L876.2 675.5L876.4 668.6L876.6 661.7L876.8 654.8L877.0 647.8L877.3 640.8L877.6 633.6L878.1 625.5L878.6 617.3L879.2 608.9L879.8 600.4L880.5 592.0L881.1 583.6L881.8 575.3L882.4 566.9L883.1 558.5L883.8 550.2L884.5 541.8L885.3 533.5L886.1 525.0L886.9 516.4L887.8 507.8L888.7 499.3L889.5 491.2L890.3 483.4L890.8 477.2L891.3 470.9L891.7 464.8L892.1 459.1L892.8 454.1L893.7 450.0L894.3 448.4L895.0 447.1L895.8 446.0L896.5 444.9L897.2 443.6L897.8 442.0L898.7 437.8L899.3 432.6L899.8 426.8L900.2 420.6L900.7 414.4L901.2 408.6L901.8 403.0L902.5 397.2L903.1 391.5L903.8 385.9L904.6 380.4L905.3 375.2L905.9 370.9L906.5 366.6L907.1 362.4L907.8 358.4L908.6 354.9L909.5 351.8L910.1 350.1L910.8 348.4L911.5 346.8L912.2 345.5L912.9 344.6L913.7 344.3L914.5 344.6L915.4 345.5L916.3 346.9L917.2 348.5L918.0 350.2L918.7 351.8L919.5 353.9L920.1 356.2L920.6 358.7L921.1 361.4L921.5 364.1L922.0 366.9L922.6 370.7L923.2 374.6L923.8 378.8L924.4 383.1L924.9 387.4L925.4 391.9L925.9 397.2L926.3 402.7L926.7 408.4L927.0 414.1L927.4 419.8L927.9 425.3L928.4 430.4L928.9 435.4L929.5 440.4L930.1 445.4L930.6 450.3L931.2 455.3L931.9 450.3L932.6 445.2L933.2 440.1L933.9 435.1L934.6 430.1L935.4 425.3L936.1 420.8L936.8 416.3L937.5 411.8L938.3 407.5L939.3 403.6L940.4 400.3L941.2 398.4L942.1 396.5L943.1 394.8L944.1 393.4L945.1 392.4L946.2 391.9L947.4 392.1L948.7 392.8L950.0 394.0L951.4 395.4L952.6 397.0L953.8 398.6L955.2 401.1L956.3 404.1L957.3 407.4L958.3 410.7L959.3 414.0L960.4 416.9L961.4 419.3L962.5 421.9L963.6 424.5L964.7 426.6L965.7 428.1L966.7 428.6L967.7 427.8L968.6 425.7L969.4 422.9L970.2 419.6L971.0 416.4L971.7 413.6L972.3 411.4L972.9 409.2L973.4 407.0L973.9 404.9L974.4 402.6L975.0 400.3L975.7 397.3L976.5 394.1L977.3 390.7L978.2 387.5L979.1 384.5L980.1 381.9L980.9 380.2L981.7 378.5L982.5 377.0L983.4 375.6L984.3 374.7L985.1 374.4L986.0 374.8L986.8 375.8L987.7 377.2L988.6 378.8L989.4 380.4L990.1 381.9L990.7 383.3L991.2 384.7L991.6 386.1L992.0 387.5L992.6 388.9L993.4 390.2L994.6 391.8L996.0 393.4L997.6 395.0L999.3 396.4L1001.0 397.4L1002.6 397.7L1004.4 397.3L1006.2 396.2L1008.1 394.7L1010.0 392.8L1011.7 390.7L1013.4 388.6L1015.4 385.6L1017.2 382.0L1019.0 378.0L1020.6 374.1L1022.1 370.3L1023.5 366.9L1024.4 364.7L1025.2 362.5L1026.0 360.5L1026.8 358.5L1027.6 356.8L1028.5 355.2L1029.3 354.1L1030.1 352.9L1030.9 351.9L1031.8 351.0L1032.7 350.4L1033.5 350.2L1034.3 350.4L1035.2 351.1L1036.0 352.0L1036.9 353.0L1037.7 354.1L1038.5 355.2L1039.4 356.4L1040.1 357.7L1040.9 359.1L1041.7 360.6L1042.5 362.0L1043.5 363.5L1044.9 365.6L1046.5 368.0L1048.2 370.5L1050.0 372.7L1051.8 374.4L1053.5 375.2L1054.9 375.2L1056.4 374.7L1057.9 373.9L1059.4 372.9L1060.7 371.6L1061.9 370.2L1063.2 367.6L1064.2 364.3L1065.0 360.5L1065.6 356.7L1066.2 353.1L1066.9 350.2L1067.3 348.7L1067.7 347.2L1068.0 345.9L1068.4 344.7L1068.9 343.6L1069.4 342.7L1069.9 342.1L1070.4 341.4L1071.0 340.9L1071.6 340.5L1072.2 340.2L1072.7 340.2L1073.3 340.6L1073.9 341.5L1074.5 342.6L1075.0 344.0L1075.5 345.4L1076.0 346.8L1076.5 348.5L1077.0 350.2L1077.4 352.0L1077.7 353.9L1078.1 356.1L1078.5 358.5L1079.3 364.1L1080.1 371.1L1080.9 378.8L1081.7 386.6L1082.6 393.9L1083.6 400.3L1084.3 404.5L1084.9 408.9L1085.6 413.1L1086.4 416.6L1087.4 419.2L1088.6 420.3L1090.0 419.5L1091.7 417.0L1093.5 413.6L1095.3 410.3L1097.1 407.8L1098.6 406.9L1100.0 407.9L1101.2 410.3L1102.2 413.6L1103.3 417.5L1104.3 421.5L1105.3 425.3L1106.7 430.5L1108.2 436.5L1109.6 442.8L1111.0 448.9L1112.4 454.4L1113.6 458.7L1114.2 460.3L1114.8 461.7L1115.3 462.9L1115.8 464.0L1116.4 465.2L1116.9 466.7L1117.6 469.2L1118.3 472.2L1119.0 475.3L1119.6 478.4L1120.3 481.1L1121.1 483.4L1121.6 484.5L1122.0 485.7L1122.5 486.7L1123.0 487.6L1123.5 488.2L1124.0 488.4L1124.5 488.2L1125.0 487.6L1125.5 486.7L1126.0 485.7L1126.5 484.6L1127.0 483.4L1127.8 481.2L1128.6 478.6L1129.3 475.6L1130.0 472.6L1130.7 469.5L1131.3 466.7L1131.8 464.1L1132.3 461.5L1132.8 459.0L1133.3 456.5L1133.8 454.1L1134.3 452.0L1134.7 450.5L1135.1 449.2L1135.5 447.8L1136.0 446.6L1136.5 445.5L1137.0 444.5L1137.5 443.8L1137.9 443.1L1138.5 442.5L1139.0 441.9L1139.5 441.6L1140.0 441.5L1140.5 441.7L1141.1 442.2L1141.6 442.9L1142.1 443.8L1142.6 444.6L1143.0 445.5L1143.5 446.5L1144.0 447.7L1144.4 448.8L1144.8 450.1L1145.2 451.5L1145.5 453.0L1146.0 455.6L1146.4 458.5L1146.7 461.7L1147.0 465.1L1147.2 468.5L1147.5 472.0L1147.8 476.3L1148.0 480.6L1148.3 485.2L1148.5 489.9L1148.7 494.8L1148.9 500.0L1149.3 507.4L1149.7 515.4L1150.1 523.7L1150.5 532.4L1150.9 541.2L1151.2 550.2L1151.5 560.8L1151.8 571.8L1152.1 583.1L1152.3 594.5L1152.5 605.8L1152.8 617.0L1153.1 627.9L1153.4 639.0L1153.7 650.1L1154.0 660.9L1154.2 671.3L1154.5 681.0L1154.7 688.0L1154.9 694.4L1155.0 700.6L1155.2 706.7L1155.3 713.1L1155.5 720.0L1155.7 729.5L1155.8 740.0L1156.0 750.7L1156.2 761.4L1156.3 771.3L1156.5 780.0L1156.6 785.0L1156.8 789.5L1156.9 793.7L1157.0 797.7L1157.2 801.8L1157.3 806.0L1157.5 801.8L1157.7 797.7L1157.9 793.7L1158.1 789.5L1158.3 785.0L1158.5 780.0L1158.8 771.3L1159.2 761.4L1159.6 750.7L1160.0 740.0L1160.5 729.5L1161.0 720.0L1161.5 712.9L1162.0 706.1L1162.6 699.5L1163.2 693.1L1163.8 686.9L1164.3 681.0L1164.6 676.3L1164.9 671.9L1165.2 667.6L1165.5 663.4L1165.9 659.2L1166.5 655.0L1167.3 650.9L1168.2 646.8L1169.2 642.8L1170.3 638.8L1171.4 634.8L1172.4 630.8L1179.9 620.4L1180.1 617.0L1180.3 613.5L1180.5 610.1L1180.7 606.6L1180.9 603.3L1181.2 600.0L1181.5 597.3L1181.7 594.7L1182.0 592.2L1182.3 589.7L1182.6 586.8L1182.9 583.6L1183.4 576.7L1183.8 568.6L1184.2 559.6L1184.6 550.5L1185.0 541.6L1185.4 533.5L1185.7 527.6L1186.0 522.1L1186.2 516.7L1186.5 511.4L1186.8 505.9L1187.1 500.0L1187.6 491.9L1188.2 483.1L1188.8 473.9L1189.4 465.0L1189.9 456.9L1190.4 450.0L1190.6 446.8L1190.7 444.0L1190.8 441.5L1190.9 439.0L1191.1 436.4L1191.4 433.6L1191.8 429.6L1192.3 425.3L1192.8 420.8L1193.5 416.4L1194.4 412.2L1195.4 408.6L1196.3 406.1L1197.4 403.4L1198.6 400.9L1199.8 398.8L1201.0 397.4L1202.1 396.9L1203.2 397.5L1204.3 399.2L1205.5 401.5L1206.6 404.3L1207.6 407.2L1208.7 409.8L1210.0 412.9L1211.2 416.3L1212.4 419.8L1213.6 423.3L1214.7 426.8L1215.9 430.0L1216.9 432.9L1217.9 436.1L1218.9 439.3L1219.9 442.0L1220.8 443.8L1221.7 444.5L1222.8 443.0L1223.9 439.1L1224.8 433.6L1225.8 427.3L1226.6 421.1L1227.5 415.6L1228.3 410.7L1229.0 405.6L1229.7 400.5L1230.4 395.6L1231.0 390.9L1231.8 386.7L1232.3 383.9L1232.8 381.3L1233.4 378.8L1233.9 376.5L1234.6 374.3L1235.4 372.3L1236.1 370.7L1237.0 369.1L1237.9 367.5L1238.8 366.2L1239.7 365.3L1240.5 365.0L1241.4 365.5L1242.3 366.7L1243.2 368.5L1244.0 370.6L1244.8 372.9L1245.5 375.1L1246.4 378.7L1247.1 382.7L1247.6 387.1L1248.1 391.7L1248.5 396.5L1249.1 401.2L1249.8 407.0L1250.5 413.1L1251.2 419.5L1251.9 425.7L1252.7 431.8L1253.5 437.3L1254.2 441.2L1254.8 445.0L1255.5 448.5L1256.2 452.0L1257.0 455.5L1257.8 459.0L1258.7 462.6L1259.6 466.3L1260.6 470.0L1261.7 473.6L1262.7 477.2L1263.6 480.6L1264.4 483.9L1265.1 487.6L1265.9 491.2L1266.6 494.3L1267.4 496.5L1268.2 497.3L1269.1 496.5L1270.0 494.3L1271.0 491.2L1272.0 487.6L1272.9 483.9L1273.7 480.6L1274.5 477.1L1275.2 473.5L1275.9 469.7L1276.6 466.0L1277.2 462.4L1278.0 459.0L1278.7 456.3L1279.4 453.7L1280.1 451.1L1280.8 448.7L1281.6 446.5L1282.4 444.5L1283.0 443.2L1283.5 441.9L1284.1 440.7L1284.7 439.7L1285.4 439.0L1286.0 438.7L1286.7 439.1L1287.3 440.1L1288.0 441.5L1288.8 442.9L1289.5 444.0L1290.3 444.5L1291.1 444.4L1291.9 443.9L1292.7 443.1L1293.6 442.3L1294.5 441.5L1295.4 441.0L1296.3 440.6L1297.3 440.3L1298.3 440.0L1299.3 439.8L1300.2 439.8L1301.2 440.0L1302.5 440.6L1303.8 441.5L1305.0 442.6L1306.3 444.0L1307.4 445.4L1308.4 447.0L1309.4 449.3L1310.2 452.1L1310.9 455.2L1311.4 458.2L1312.0 461.0L1312.7 463.3L1313.2 464.6L1313.7 465.9L1314.2 467.2L1314.7 468.2L1315.1 468.9L1315.6 469.1L1316.1 468.6L1316.6 467.3L1317.1 465.5L1317.6 463.4L1318.0 461.1L1318.5 459.0L1319.2 455.7L1319.9 451.9L1320.6 447.9L1321.3 444.0L1322.0 440.3L1322.8 437.3L1323.3 435.7L1323.8 434.0L1324.3 432.4L1324.8 431.2L1325.3 430.3L1325.7 430.0L1326.3 430.7L1326.7 432.6L1327.2 435.2L1327.7 438.3L1328.1 441.5L1328.6 444.5L1329.3 448.2L1330.1 452.1L1330.9 456.3L1331.6 460.6L1332.4 465.2L1333.0 470.0L1333.7 477.4L1334.3 485.4L1334.8 493.9L1335.2 502.7L1335.6 511.5L1336.0 520.0L1336.5 528.4L1336.9 536.7L1337.3 545.1L1337.7 553.4L1338.1 561.8L1338.5 570.0L1338.9 577.8L1339.2 585.5L1339.5 593.1L1339.9 600.8L1340.1 608.8L1340.4 617.0L1340.6 626.7L1340.8 636.4L1341.0 646.3L1341.1 656.8L1341.3 668.3L1341.4 681.0L1341.4 707.5L1341.3 739.6L1341.0 774.4L1341.0 808.9L1341.3 840.2L1342.2 865.4L1342.9 875.8L1343.8 884.8L1344.8 892.9L1345.9 900.6L1346.9 908.4L1348.0 916.8L1349.1 926.6L1350.3 936.9L1351.5 947.4L1352.7 957.5L1353.9 966.9L1355.0 975.3L1355.7 980.2L1356.4 984.9L1357.1 989.3L1357.7 993.3L1358.4 996.9L1359.0 1000.0L1359.3 1001.5L1359.5 1003.0L1359.8 1004.4L1360.1 1005.5L1360.4 1006.4L1360.9 1006.8L1361.3 1006.8L1361.8 1006.5L1362.3 1006.1L1362.9 1005.5L1363.4 1005.0L1364.0 1004.5L1364.7 1003.9L1365.5 1003.3L1366.3 1002.6L1367.1 1001.9L1368.0 1001.2L1369.0 1000.5L1370.3 999.6L1371.6 998.8L1373.1 997.9L1374.7 997.0L1376.4 996.1L1378.4 995.1L1382.9 993.2L1388.2 991.1L1394.2 988.9L1400.5 986.6L1407.1 984.4L1413.5 982.3L1420.9 979.9L1428.5 977.5L1436.4 975.1L1444.3 972.8L1452.3 970.6L1460.2 968.7L1468.0 967.0L1475.7 965.5L1483.6 964.1L1491.4 962.9L1499.2 961.7L1507.0 960.5L1514.8 959.4L1522.6 958.3L1530.3 957.3L1538.1 956.4L1545.9 955.5L1553.7 954.7L1561.5 953.9L1569.3 953.2L1577.0 952.5L1584.8 951.9L1592.6 951.3L1600.4 950.7L1608.1 950.2L1615.6 949.7L1623.2 949.2L1630.9 948.7L1638.9 948.3L1647.2 947.9L1658.0 947.4L1669.4 947.0L1681.2 946.6L1693.2 946.2L1705.2 945.8L1717.0 945.4"/>
<path class="c" stroke="#ff00ff" d="M275.0 866.1L291.6 866.0L308.1 865.9L324.6 865.9L341.2 865.8L357.9 865.6L375.0 865.2L393.7 864.7L412.7 864.0L431.9 863.2L451.3 862.3L470.7 861.3L490.0 860.3L509.6 859.2L529.6 857.9L549.5 856.6L569.3 855.2L588.5 853.7L607.0 852.2L622.6 850.8L638.1 849.4L653.2 847.9L667.7 846.4L681.4 844.9L694.0 843.5L702.2 842.5L710.1 841.6L717.6 840.6L724.5 839.7L731.0 838.9L737.0 838.2L740.5 837.8L743.7 837.4L746.7 837.1L749.6 836.8L752.5 836.5L755.5 836.2L756.0 831.0L756.5 825.7L757.1 820.4L757.6 815.1L758.0 810.0L758.4 805.0L758.6 800.8L758.7 797.0L758.8 793.2L758.9 789.3L759.0 785.0L759.1 780.0L759.5 769.1L759.9 756.0L760.5 741.7L761.0 727.0L761.4 712.8L761.8 700.0L762.0 691.0L762.1 682.5L762.1 674.3L762.2 666.2L762.3 658.2L762.6 650.0L763.0 641.7L763.5 633.3L764.1 624.9L764.8 616.5L765.4 608.3L765.9 600.3L766.3 592.9L766.7 585.5L767.1 578.1L767.5 571.0L767.9 564.4L768.4 558.5L768.8 554.9L769.1 551.4L769.5 548.1L769.9 545.2L770.4 542.5L771.0 540.2L771.4 539.0L771.8 537.9L772.2 536.8L772.6 535.9L773.0 535.3L773.5 535.1L774.0 535.3L774.5 535.9L775.0 536.8L775.6 537.9L776.0 539.1L776.5 540.2L777.1 541.9L777.6 543.8L778.1 545.9L778.5 548.2L778.9 550.7L779.3 553.5L780.1 559.6L780.8 566.9L781.5 575.0L782.2 583.5L782.9 592.1L783.5 600.3L784.1 608.3L784.7 616.3L785.3 624.2L785.8 632.4L786.3 641.0L786.8 650.0L787.4 662.7L788.0 676.2L788.6 690.4L789.2 704.9L789.7 719.3L790.2 733.5L790.6 748.4L790.9 764.4L791.2 780.4L791.6 795.3L792.1 807.9L792.7 817.0L793.0 819.2L793.3 820.9L793.6 822.4L793.9 823.8L794.2 825.1L794.5 826.6L815.1 820.6L815.3 817.2L815.4 813.7L815.6 810.3L815.8 806.8L815.9 803.4L816.1 800.0L816.3 796.7L816.4 793.6L816.5 790.5L816.7 787.3L816.8 783.8L817.0 780.0L817.3 773.5L817.6 766.4L817.9 758.8L818.3 750.7L818.6 742.3L818.9 733.5L819.2 720.7L819.5 706.7L819.8 691.9L820.0 677.1L820.2 663.0L820.5 650.0L820.7 641.1L821.0 632.8L821.2 624.8L821.4 616.9L821.7 608.9L821.9 600.3L822.2 589.5L822.4 577.9L822.7 566.1L823.0 554.4L823.3 543.4L823.5 533.5L823.7 527.3L823.8 521.6L824.0 516.2L824.1 510.9L824.3 505.6L824.4 500.0L824.5 493.8L824.6 487.6L824.7 481.4L824.8 475.0L825.0 468.5L825.2 462.0L825.5 454.6L825.8 446.8L826.2 438.9L826.6 431.1L827.1 423.7L827.7 416.9L828.1 412.1L828.5 407.4L829.0 402.9L829.5 398.7L830.2 395.0L831.1 391.9L831.7 390.4L832.2 388.9L832.8 387.6L833.5 386.5L834.3 385.6L835.2 385.2L836.4 385.4L837.8 386.5L839.3 387.8L840.9 389.2L842.3 390.1L843.6 390.2L845.1 388.7L846.4 385.8L847.5 382.0L848.5 377.8L849.4 373.7L850.3 370.2L851.0 367.7L851.7 365.3L852.3 362.8L852.9 360.6L853.6 358.6L854.4 356.8L855.0 355.7L855.7 354.6L856.4 353.7L857.2 352.9L857.9 352.4L858.6 352.2L859.3 352.5L860.1 353.2L860.8 354.3L861.5 355.6L862.2 357.0L862.8 358.5L863.8 361.6L864.6 365.4L865.2 369.7L865.8 374.3L866.3 379.0L866.9 383.6L867.6 388.9L868.2 394.3L868.7 399.9L869.3 405.6L869.8 411.3L870.3 416.9L870.8 422.3L871.2 427.5L871.7 432.7L872.1 438.0L872.4 443.9L872.8 450.3L873.3 462.4L873.8 476.6L874.3 491.9L874.7 507.1L875.0 521.4L875.3 533.5L875.5 540.1L875.6 546.3L875.7 552.1L875.8 557.5L875.9 562.4L876.0 566.9L876.1 569.3L876.1 571.5L876.2 573.6L876.3 575.5L876.3 577.5L876.4 579.5L876.6 577.5L876.7 575.5L876.9 573.6L877.0 571.5L877.2 569.3L877.3 566.9L877.5 562.3L877.7 557.2L877.9 551.6L878.1 545.7L878.3 539.6L878.6 533.5L879.1 525.6L879.6 517.2L880.2 508.4L880.8 499.7L881.4 491.3L882.0 483.4L882.4 477.2L882.8 471.0L883.2 465.1L883.6 459.4L884.1 454.4L884.5 450.0L884.8 448.0L885.0 446.4L885.3 444.9L885.5 443.4L885.8 441.8L886.1 440.0L886.6 436.6L887.1 432.6L887.7 428.3L888.3 424.1L888.9 420.2L889.5 416.9L889.9 415.2L890.2 413.6L890.6 412.1L891.0 410.8L891.5 409.6L892.0 408.6L892.4 408.0L892.8 407.4L893.2 406.9L893.6 406.5L894.1 406.2L894.5 406.1L894.9 406.2L895.4 406.5L895.8 406.9L896.2 407.4L896.6 408.0L897.0 408.6L897.5 409.6L898.0 410.8L898.4 412.1L898.8 413.5L899.1 415.1L899.5 416.9L900.2 421.0L900.8 425.8L901.3 431.2L901.8 437.2L902.3 443.6L902.8 450.3L903.6 462.0L904.3 475.3L905.1 489.6L905.7 504.4L906.4 519.2L907.0 533.5L907.6 547.5L908.1 561.7L908.6 575.9L909.1 590.0L909.6 603.7L910.0 617.0L910.3 628.2L910.6 639.2L910.8 649.9L911.1 660.5L911.5 670.8L912.0 681.0L912.7 690.1L913.5 699.1L914.4 708.0L915.3 716.7L916.2 725.2L917.0 733.5L917.6 740.8L918.1 748.2L918.6 755.4L919.1 762.3L919.5 768.6L920.0 774.0L920.2 777.0L920.4 780.0L920.7 782.9L920.9 785.2L921.2 786.9L921.5 787.5L922.0 786.9L922.5 785.4L923.1 783.1L923.7 780.2L924.3 777.1L924.8 774.0L925.7 766.8L926.5 758.1L927.3 748.2L927.9 737.7L928.5 727.1L929.0 716.8L929.4 706.0L929.7 694.9L929.9 683.7L930.1 672.4L930.3 661.2L930.7 650.0L931.2 638.9L931.9 627.9L932.6 616.8L933.3 605.7L934.0 594.7L934.6 583.6L935.1 572.5L935.5 561.4L935.9 550.2L936.2 539.1L936.6 527.9L937.0 516.8L937.4 505.4L937.9 493.7L938.4 481.9L938.9 470.5L939.3 459.8L939.6 450.0L939.8 443.8L939.8 438.1L939.9 432.7L940.0 427.5L940.1 422.3L940.4 416.9L940.8 411.2L941.2 405.2L941.7 399.2L942.3 393.4L943.0 388.1L943.7 383.6L944.2 381.2L944.6 379.0L945.1 376.9L945.6 375.1L946.3 373.4L947.1 371.9L947.8 370.9L948.6 369.9L949.5 369.0L950.3 368.3L951.2 367.8L952.1 367.7L953.2 368.3L954.3 369.6L955.4 371.4L956.5 373.4L957.6 375.3L958.8 376.9L959.9 378.3L960.9 379.8L962.0 381.2L963.1 382.5L964.3 383.3L965.4 383.6L966.8 383.1L968.2 381.8L969.6 380.0L971.0 377.8L972.4 375.6L973.8 373.5L975.5 370.9L977.2 368.0L978.9 365.0L980.6 362.0L982.2 359.2L983.8 356.8L984.9 355.2L985.9 353.6L986.9 352.1L987.9 350.8L988.9 349.8L990.1 349.3L991.4 349.3L992.7 349.8L994.2 350.7L995.6 351.7L997.1 352.6L998.4 353.5L999.6 354.3L1000.7 355.3L1001.9 356.3L1003.0 357.1L1004.1 357.6L1005.1 357.7L1006.4 357.0L1007.6 355.6L1008.7 353.6L1009.8 351.4L1010.8 349.0L1011.8 346.8L1012.8 344.1L1013.7 341.2L1014.5 338.1L1015.3 335.0L1016.0 331.8L1016.8 328.5L1017.7 324.7L1018.5 320.7L1019.2 316.6L1020.0 312.5L1020.9 308.6L1021.8 305.1L1022.5 302.5L1023.2 300.0L1024.0 297.7L1024.8 295.4L1025.7 293.4L1026.8 291.7L1027.7 290.5L1028.8 289.5L1029.8 288.6L1031.0 287.8L1032.2 287.2L1033.5 286.7L1035.0 286.5L1036.7 286.5L1038.4 286.7L1040.1 287.0L1041.9 287.3L1043.5 287.6L1045.0 287.8L1046.5 287.8L1047.9 288.0L1049.3 288.2L1050.6 288.6L1051.8 289.2L1052.9 290.2L1053.8 291.6L1054.6 293.1L1055.4 294.8L1056.1 296.6L1056.8 298.4L1057.7 300.7L1058.5 303.1L1059.3 305.7L1060.1 308.3L1061.0 310.9L1061.9 313.4L1062.9 315.8L1063.8 318.3L1064.8 320.8L1065.9 323.1L1067.1 325.2L1068.5 326.8L1069.7 327.7L1071.1 328.2L1072.5 328.6L1074.0 329.0L1075.5 329.4L1076.9 330.1L1078.6 331.2L1080.3 332.5L1082.0 333.9L1083.7 335.4L1085.3 336.9L1086.9 338.5L1088.4 340.0L1089.8 341.6L1091.2 343.2L1092.6 344.8L1093.9 346.6L1095.2 348.5L1096.7 351.0L1098.2 353.7L1099.6 356.5L1101.0 359.4L1102.3 362.3L1103.6 365.2L1104.8 368.0L1105.9 370.9L1107.0 373.7L1108.0 376.6L1109.1 379.3L1110.3 381.9L1111.3 384.1L1112.3 386.3L1113.3 388.4L1114.4 390.3L1115.6 392.1L1116.9 393.6L1118.1 394.6L1119.5 395.5L1120.9 396.2L1122.4 396.8L1123.8 397.3L1125.3 397.7L1126.7 398.1L1128.1 398.5L1129.5 398.8L1130.9 399.0L1132.3 398.9L1133.6 398.6L1135.1 397.6L1136.6 396.1L1138.0 394.2L1139.4 392.2L1140.7 390.3L1142.0 388.6L1143.0 387.2L1144.0 385.7L1145.0 384.2L1146.0 383.0L1146.9 382.1L1147.8 381.9L1148.9 382.6L1149.9 384.2L1150.9 386.4L1151.8 389.0L1152.8 391.5L1153.7 393.6L1154.5 395.5L1155.4 397.7L1156.2 399.9L1157.0 401.8L1157.8 403.1L1158.7 403.6L1159.8 403.1L1160.9 401.6L1162.1 399.5L1163.3 397.0L1164.4 394.4L1165.4 391.9L1166.4 388.8L1167.3 385.3L1168.0 381.6L1168.7 378.0L1169.5 374.6L1170.4 371.9L1171.0 370.4L1171.7 368.8L1172.5 367.4L1173.2 366.2L1173.9 365.4L1174.5 365.2L1175.3 366.0L1176.1 367.8L1176.8 370.5L1177.4 373.6L1178.1 377.0L1178.7 380.2L1179.6 385.7L1180.5 392.2L1181.3 399.2L1182.1 406.0L1182.9 412.1L1183.7 416.9L1184.1 418.9L1184.5 420.8L1184.9 422.5L1185.4 424.0L1185.8 425.0L1186.2 425.3L1186.7 424.8L1187.2 423.4L1187.6 421.3L1188.1 418.9L1188.6 416.2L1189.1 413.6L1190.0 408.3L1190.8 402.0L1191.7 395.0L1192.5 387.9L1193.5 381.1L1194.6 375.2L1195.4 371.3L1196.2 367.5L1197.0 363.8L1197.9 360.5L1199.0 357.6L1200.4 355.2L1201.5 353.8L1202.7 352.6L1204.0 351.5L1205.3 350.7L1206.7 350.2L1207.9 350.2L1209.6 351.2L1211.3 353.1L1212.9 355.8L1214.5 358.8L1216.0 362.0L1217.3 365.0L1218.6 368.3L1219.7 371.7L1220.6 375.3L1221.5 379.0L1222.3 382.8L1223.1 386.7L1224.0 391.3L1224.8 396.2L1225.5 401.1L1226.2 406.1L1226.9 411.0L1227.5 415.6L1228.0 419.4L1228.5 423.1L1229.0 426.6L1229.4 430.2L1229.8 433.7L1230.3 437.3L1230.7 441.0L1231.1 444.9L1231.5 448.7L1231.9 452.4L1232.5 455.9L1233.2 459.0L1233.8 461.0L1234.4 462.9L1235.0 464.7L1235.8 466.3L1236.6 467.8L1237.6 469.1L1238.7 470.0L1239.9 470.6L1241.2 471.2L1242.5 471.7L1243.8 472.4L1244.8 473.4L1245.9 475.2L1246.8 477.5L1247.5 480.1L1248.1 482.8L1248.6 485.4L1249.1 487.9L1249.4 489.9L1249.6 491.8L1249.8 493.7L1249.9 495.6L1250.1 497.7L1250.3 500.1L1250.9 505.0L1251.5 510.8L1252.3 517.0L1253.1 523.3L1254.2 528.9L1255.3 533.5L1256.1 535.5L1256.9 537.2L1257.8 538.8L1258.7 540.2L1259.5 541.8L1260.3 543.5L1261.1 545.9L1261.8 548.6L1262.5 551.5L1263.2 554.2L1263.8 556.6L1264.4 558.5L1264.7 559.3L1265.0 560.1L1265.3 560.8L1265.6 561.4L1265.8 561.8L1266.1 561.9L1266.4 561.7L1266.7 561.1L1267.0 560.2L1267.3 559.2L1267.5 558.0L1267.8 556.8L1268.3 554.0L1268.8 550.5L1269.2 546.5L1269.6 542.2L1270.0 537.8L1270.3 533.5L1270.7 528.3L1271.0 522.8L1271.2 517.2L1271.5 511.5L1271.7 505.7L1272.0 500.1L1272.3 494.7L1272.6 489.4L1272.8 484.1L1273.1 478.7L1273.4 472.9L1273.6 466.7L1273.8 456.6L1274.0 445.1L1274.1 433.0L1274.3 421.1L1274.6 410.2L1275.1 401.2L1275.5 397.0L1275.8 393.2L1276.2 389.6L1276.7 386.4L1277.3 383.5L1278.0 380.9L1278.5 379.4L1279.0 378.0L1279.6 376.7L1280.2 375.5L1280.9 374.5L1281.6 373.7L1282.2 373.2L1282.8 372.8L1283.5 372.5L1284.1 372.2L1284.8 372.2L1285.3 372.3L1286.0 372.9L1286.5 374.1L1287.0 375.5L1287.4 377.3L1287.8 379.1L1288.2 380.9L1288.8 383.7L1289.3 386.9L1289.7 390.3L1290.2 393.8L1290.6 397.5L1291.0 401.2L1291.5 405.7L1292.0 410.5L1292.5 415.3L1293.0 420.3L1293.4 425.2L1293.9 430.1L1294.4 435.0L1294.9 440.1L1295.3 445.1L1295.8 450.0L1296.3 454.7L1296.8 459.0L1297.1 462.0L1297.4 465.0L1297.8 467.9L1298.1 470.5L1298.5 472.9L1299.0 474.9L1299.3 475.9L1299.7 476.9L1300.1 477.8L1300.5 478.5L1300.8 479.0L1301.2 479.2L1301.6 478.9L1302.0 478.3L1302.3 477.3L1302.7 476.1L1303.0 474.8L1303.3 473.4L1303.8 469.9L1304.2 465.4L1304.6 460.3L1304.8 455.0L1305.1 449.6L1305.5 444.5L1305.9 439.6L1306.4 434.7L1306.9 429.8L1307.4 424.9L1307.9 420.2L1308.4 415.6L1308.8 411.7L1309.2 407.7L1309.7 403.8L1310.1 400.1L1310.7 396.8L1311.3 393.9L1311.7 392.4L1312.1 391.0L1312.6 389.7L1313.1 388.5L1313.6 387.5L1314.2 386.7L1314.6 386.3L1315.1 385.9L1315.6 385.6L1316.1 385.3L1316.6 385.2L1317.1 385.3L1317.8 385.8L1318.4 386.7L1319.0 387.9L1319.6 389.3L1320.2 390.9L1320.7 392.5L1321.5 395.5L1322.2 399.1L1322.8 403.0L1323.3 407.2L1323.8 411.4L1324.3 415.6L1324.8 420.2L1325.3 425.0L1325.8 429.8L1326.2 434.7L1326.7 439.6L1327.2 444.5L1327.8 449.2L1328.4 453.7L1329.0 458.3L1329.7 463.0L1330.3 468.0L1330.8 473.4L1331.4 482.0L1331.9 491.4L1332.3 501.5L1332.7 511.9L1333.1 522.7L1333.5 533.5L1334.1 546.8L1334.8 560.7L1335.5 575.1L1336.2 589.5L1336.9 603.6L1337.4 617.0L1337.8 628.0L1338.1 638.4L1338.4 648.7L1338.6 658.9L1338.8 669.6L1339.1 681.0L1339.4 696.5L1339.8 713.3L1340.2 730.7L1340.5 748.0L1340.8 764.7L1341.0 780.0L1341.1 791.2L1341.1 802.2L1341.1 812.9L1341.2 822.8L1341.3 832.0L1341.5 840.0L1341.7 844.1L1341.9 847.8L1342.2 851.2L1342.5 854.4L1342.7 857.6L1343.0 861.0L1347.0 860.8L1350.9 860.6L1354.9 860.4L1358.8 860.1L1362.8 859.9L1366.7 859.6L1370.6 859.3L1374.5 858.9L1378.4 858.4L1382.3 858.0L1386.2 857.6L1390.1 857.3L1393.9 857.0L1397.6 856.8L1401.3 856.5L1405.1 856.3L1409.1 856.2L1413.5 856.1L1420.4 856.1L1427.9 856.2L1435.8 856.5L1444.0 856.7L1452.2 857.0L1460.2 857.3L1468.0 857.5L1475.8 857.8L1483.6 858.0L1491.4 858.3L1499.2 858.6L1507.0 858.9L1514.8 859.2L1522.6 859.6L1530.4 860.0L1538.1 860.4L1545.9 860.8L1553.7 861.2L1561.5 861.5L1569.3 861.9L1577.0 862.2L1584.8 862.5L1592.6 862.8L1600.4 863.1L1608.1 863.4L1615.7 863.7L1623.2 863.9L1630.9 864.2L1638.9 864.5L1647.2 864.7L1658.0 865.0L1669.4 865.2L1681.2 865.4L1693.2 865.7L1705.2 865.9L1717.0 866.1"/>
<path class="c" stroke="#0000ff" stroke-dasharray="0.0 0.4 34.5 8.6 16.8 8.6 35.1 8.7 17.1 8.7 34.7 8.6 16.8 8.6 34.9 8.7 17.0 8.7 35.2 8.8 17.1 8.8 35.2 8.7 17.1 8.7 34.0 8.5 16.5 8.5 33.3 8.3 16.2 8.3 35.3 8.8 17.2 8.8 34.8 8.6 16.9 8.6 34.8 8.6 16.9 8.6 33.7 8.4 16.4 8.4 33.1 8.2 16.1 8.2 36.7 9.1 17.8 9.1 36.7 9.1 17.8 9.1 35.6 8.8 17.3 8.8 33.6 8.4 16.3 8.4 36.0 8.9 17.5 8.9 35.7 8.9 17.3 8.9 35.7 8.9 17.3 8.9 35.7 8.9 17.3 8.9 35.4 8.8 17.2 8.8 36.1 9.0 17.5 9.0 33.3 8.3 16.2 8.3 34.8 8.6 16.9 8.6 36.3 9.0 17.6 9.0 36.3 9.0 17.6 9.0 36.3 9.0 17.6 9.0 33.6 8.4 16.3 8.4 36.4 9.0 17.7 9.0 31.9 7.9 15.5 7.9 31.9 7.9 15.5 7.9 35.7 8.9 17.3 8.9 35.7 8.9 17.3 8.9 34.0 8.5 16.5 7.5 21.2 2.2 13.1 10.9 32.0 7.2 13.0 4.1 31.3 7.8 15.2 7.8 32.2 8.0 15.6 8.0 37.3 9.3 18.1 9.3 34.9 8.7 17.0 8.7 35.0 8.7 17.0 8.7 38.0 9.4 18.5 9.4 35.3 8.8 17.1 8.8 33.5 8.3 16.3 8.3 35.7 8.9 17.3 8.9 55.7 10.7 24.1 3.7 22.0 6.2 32.3 9.8 41.5 6.4 16.9 8.8 33.7 8.4 16.4 8.4 33.7 8.4 16.4 8.4 33.5 8.3 16.3 8.3 33.5 8.3 16.3 8.3 36.0 8.9 17.5 8.9 35.3 8.8 17.1 8.8 34.4 8.5 16.7 8.5 34.6 8.6 16.8 8.6 34.6 8.6 16.8 8.6 34.6 8.6 16.8 8.6 34.6 8.6 16.8 8.6 34.6 8.6 16.8 8.6 35.4 8.8 17.2 8.8 35.7 8.9 17.3 8.9 35.5 8.8 17.2 8.8 34.5 8.6 16.8 8.6 35.5 8.8 17.2 8.8 34.2 8.5 16.6 8.5 35.0 1000.0" d="M275.0 940.3L291.6 939.3L308.1 938.3L324.6 937.4L341.2 936.3L357.9 935.1L375.0 933.7L393.7 931.9L412.8 930.0L432.0 927.9L451.4 925.6L470.7 923.0L490.0 920.0L509.7 916.6L529.7 912.9L549.7 908.9L569.4 904.6L588.6 900.1L607.0 895.5L622.9 891.2L638.7 886.7L654.2 882.0L668.9 877.3L682.3 872.6L694.0 868.0L700.3 865.2L706.0 862.3L711.2 859.5L716.0 856.7L720.6 854.0L725.0 851.5L728.3 849.8L731.5 848.1L734.5 846.5L737.3 845.0L739.9 843.5L742.0 842.0L743.1 841.2L744.0 840.4L744.9 839.7L745.7 838.9L746.3 838.0L747.0 837.0L747.7 835.5L748.3 833.8L748.8 831.9L749.2 829.9L749.6 827.9L750.0 826.0L750.4 824.0L750.8 822.1L751.1 820.1L751.4 818.1L751.7 815.9L752.0 813.4L752.5 808.9L753.0 804.0L753.4 798.6L753.9 792.8L754.3 786.6L754.6 780.0L755.0 768.4L755.2 755.2L755.4 741.0L755.5 726.6L755.7 712.6L755.9 700.0L756.1 690.9L756.4 682.1L756.7 673.6L757.0 665.5L757.3 657.6L757.6 650.0L757.9 644.2L758.2 638.7L758.5 633.5L758.7 628.3L759.0 622.8L759.3 617.0L759.6 609.2L759.8 600.9L760.1 592.3L760.3 583.6L760.6 575.1L760.9 566.9L761.2 559.6L761.6 552.2L762.0 544.9L762.4 537.9L762.9 531.2L763.4 525.1L763.7 521.0L764.0 517.0L764.3 513.3L764.7 509.8L765.2 506.5L765.9 503.4L766.6 501.1L767.4 498.7L768.3 496.4L769.2 494.4L770.1 493.1L771.0 492.6L771.9 493.1L772.8 494.5L773.7 496.5L774.5 498.8L775.3 501.2L776.0 503.4L776.6 505.9L777.1 508.5L777.5 511.3L777.8 514.1L778.1 517.1L778.5 520.1L779.0 524.0L779.6 528.2L780.2 532.4L780.7 536.8L781.3 541.1L781.8 545.2L782.2 549.0L782.7 552.8L783.1 556.6L783.5 560.2L783.8 563.7L784.2 566.9L784.5 569.0L784.7 571.0L785.0 572.9L785.2 574.8L785.5 576.6L785.7 578.5L786.0 576.3L786.3 574.3L786.6 572.2L786.9 570.1L787.1 567.7L787.4 565.2L787.8 560.8L788.1 555.8L788.5 550.5L788.8 544.9L789.1 539.2L789.3 533.5L789.5 526.9L789.7 520.0L789.9 513.0L790.0 505.8L790.1 498.7L790.2 491.7L790.3 484.5L790.3 477.1L790.3 469.6L790.3 462.5L790.4 455.8L790.7 450.0L791.0 446.9L791.3 444.1L791.6 441.5L792.0 439.0L792.4 436.4L792.7 433.6L793.1 429.6L793.5 425.3L793.9 420.8L794.3 416.4L794.7 412.2L795.2 408.6L795.5 406.4L795.8 404.4L796.2 402.4L796.6 400.6L797.1 399.0L797.7 397.7L798.2 396.9L798.8 396.1L799.5 395.4L800.2 394.9L800.9 394.5L801.5 394.4L802.2 394.6L802.9 395.1L803.6 395.8L804.3 396.7L804.9 397.6L805.5 398.6L806.2 400.1L806.7 401.9L807.1 403.8L807.5 405.8L807.9 408.0L808.2 410.3L808.7 413.6L809.1 417.2L809.4 420.9L809.7 424.9L809.9 429.1L810.2 433.6L810.5 440.8L810.6 449.0L810.7 457.6L810.8 466.2L811.1 474.1L811.5 481.0L811.9 484.6L812.4 487.6L812.9 490.5L813.5 493.3L814.0 496.4L814.4 500.0L815.0 507.1L815.5 515.2L815.9 524.1L816.2 533.2L816.6 542.0L816.9 550.2L817.2 556.9L817.4 563.6L817.6 570.1L817.8 576.3L818.0 582.0L818.2 586.9L818.3 589.3L818.4 591.4L818.5 593.4L818.6 595.2L818.7 597.1L818.8 599.0L819.0 597.1L819.1 595.2L819.3 593.4L819.5 591.4L819.6 589.3L819.8 586.9L820.1 582.0L820.5 576.4L820.8 570.2L821.2 563.6L821.6 556.9L821.9 550.2L822.3 542.3L822.6 534.0L823.0 525.6L823.3 517.0L823.6 508.5L823.9 500.0L824.1 491.2L824.1 481.7L824.1 472.3L824.2 463.4L824.6 455.8L825.5 450.0L826.1 448.3L826.7 447.0L827.4 445.9L828.1 444.8L828.8 443.6L829.4 442.0L830.4 437.8L831.2 432.6L831.8 426.8L832.4 420.7L833.0 414.5L833.6 408.6L834.2 402.8L834.7 396.9L835.2 391.0L835.7 385.1L836.3 379.3L836.9 373.5L837.6 367.9L838.4 362.2L839.2 356.5L840.1 351.0L841.0 345.8L841.9 341.0L842.5 337.7L843.1 334.5L843.8 331.4L844.4 328.5L845.2 325.9L846.1 323.5L846.8 321.8L847.7 320.1L848.5 318.5L849.4 317.1L850.3 316.2L851.1 315.9L851.9 316.3L852.7 317.2L853.5 318.5L854.3 320.1L855.0 321.8L855.6 323.5L856.3 325.9L856.9 328.5L857.4 331.4L857.8 334.4L858.2 337.3L858.6 340.2L859.0 342.9L859.3 345.5L859.6 348.1L859.8 350.8L860.1 353.7L860.3 356.8L860.6 361.7L860.8 367.0L861.1 372.7L861.3 378.6L861.5 384.5L861.9 390.2L862.4 396.0L862.9 401.8L863.5 407.6L864.1 413.5L864.7 419.4L865.3 425.3L865.9 431.5L866.5 437.8L867.1 444.2L867.7 450.5L868.2 456.4L868.6 462.0L868.8 465.8L869.0 469.2L869.1 472.5L869.2 475.8L869.3 479.4L869.4 483.4L869.5 490.9L869.6 499.8L869.7 509.2L869.8 518.5L869.9 526.8L870.0 533.5L870.1 536.1L870.1 538.3L870.2 540.3L870.3 542.1L870.3 544.0L870.4 546.0L870.6 544.0L870.7 542.1L870.9 540.1L871.0 538.1L871.2 535.9L871.4 533.5L871.8 528.9L872.4 523.8L872.9 518.2L873.5 512.3L874.1 506.2L874.5 500.0L874.9 491.8L875.2 482.5L875.5 472.9L875.7 463.9L875.9 456.0L876.1 450.0L876.2 448.3L876.3 447.0L876.3 445.9L876.4 444.8L876.5 443.6L876.6 442.0L876.8 437.7L877.1 432.4L877.5 426.4L877.8 420.2L878.2 414.1L878.6 408.6L879.0 404.2L879.3 399.9L879.7 395.7L880.1 391.6L880.6 387.6L881.1 383.6L881.6 380.1L882.0 376.6L882.5 373.2L883.1 369.9L883.7 366.6L884.5 363.5L885.3 360.5L886.2 357.2L887.1 354.1L888.1 351.3L889.2 349.3L890.3 348.5L891.4 348.9L892.5 350.1L893.7 351.9L894.9 354.1L896.0 356.4L897.0 358.5L897.9 361.0L898.7 363.8L899.3 366.7L899.9 369.6L900.5 372.5L901.2 375.2L901.9 377.6L902.7 380.0L903.4 382.4L904.3 384.7L905.2 386.8L906.2 388.6L907.1 389.7L908.1 390.7L909.1 391.5L910.1 392.3L911.1 393.3L912.0 394.4L913.2 396.3L914.2 398.5L915.3 400.8L916.2 403.3L917.1 405.9L917.9 408.6L918.7 412.0L919.4 415.6L919.9 419.3L920.5 423.1L921.0 426.8L921.5 430.3L922.0 433.3L922.6 436.4L923.1 439.4L923.6 442.2L924.1 444.8L924.5 447.0L924.7 448.2L924.9 449.5L925.1 450.6L925.2 451.6L925.4 452.3L925.6 452.5L925.8 452.3L926.0 451.6L926.3 450.7L926.5 449.5L926.7 448.3L927.0 447.0L927.6 444.3L928.3 441.0L929.0 437.3L929.8 433.4L930.5 429.4L931.2 425.3L932.0 420.0L932.7 414.2L933.3 408.1L934.0 402.2L934.7 396.7L935.4 391.9L935.9 389.1L936.3 386.5L936.8 384.1L937.3 381.9L937.8 379.8L938.5 378.0L939.0 376.8L939.6 375.6L940.2 374.5L940.8 373.6L941.5 372.9L942.1 372.7L942.7 372.9L943.4 373.6L944.1 374.5L944.8 375.6L945.4 376.8L946.0 378.0L946.7 379.7L947.4 381.5L947.9 383.5L948.5 385.6L949.0 387.8L949.5 390.0L950.1 392.9L950.6 395.9L951.1 399.1L951.6 402.3L952.0 405.5L952.5 408.6L952.9 411.4L953.4 414.1L953.8 416.9L954.2 419.6L954.6 422.3L955.0 425.0L955.6 422.5L956.2 420.0L956.7 417.5L957.3 415.0L957.9 412.5L958.5 410.0L959.1 407.6L959.7 405.3L960.3 403.0L960.9 400.7L961.5 398.2L962.0 395.6L962.6 392.1L963.1 388.3L963.6 384.3L964.0 380.3L964.4 376.3L964.9 372.5L965.3 368.9L965.8 365.4L966.2 361.8L966.7 358.3L967.2 355.0L967.7 351.7L968.2 348.9L968.7 346.1L969.3 343.4L969.9 340.8L970.5 338.5L971.2 336.5L971.6 335.4L972.0 334.4L972.5 333.5L972.9 332.7L973.5 332.0L974.1 331.5L974.8 331.3L975.5 331.2L976.3 331.3L977.1 331.4L977.9 331.3L978.5 331.0L979.2 330.0L979.8 328.6L980.2 326.9L980.6 325.1L981.0 323.4L981.6 322.0L982.1 321.1L982.6 320.2L983.1 319.3L983.7 318.5L984.4 317.9L985.1 317.5L986.1 317.3L987.2 317.4L988.3 317.7L989.6 318.0L990.8 318.3L992.0 318.5L993.2 318.6L994.4 318.6L995.7 318.7L996.9 318.6L998.0 318.4L999.0 318.0L999.8 317.4L1000.6 316.6L1001.2 315.6L1001.8 314.6L1002.4 313.5L1003.0 312.4L1003.7 311.0L1004.3 309.5L1005.0 307.8L1005.6 306.3L1006.3 304.8L1007.0 303.6L1007.6 302.8L1008.2 302.0L1008.8 301.3L1009.5 300.7L1010.1 300.3L1010.8 300.2L1011.5 300.4L1012.2 301.0L1012.8 301.8L1013.6 302.7L1014.3 303.4L1015.1 304.0L1016.0 304.3L1016.9 304.6L1017.9 304.7L1018.9 304.8L1019.9 304.9L1020.9 304.9L1021.9 304.8L1023.0 304.6L1024.1 304.3L1025.1 304.1L1026.1 304.0L1027.0 304.0L1027.7 304.2L1028.3 304.4L1028.9 304.7L1029.5 305.0L1030.0 305.5L1030.5 306.0L1031.1 307.3L1031.5 309.1L1031.9 311.1L1032.2 313.0L1032.5 314.4L1033.0 315.0L1033.4 314.8L1033.9 314.3L1034.4 313.4L1035.0 312.5L1035.5 311.4L1036.0 310.5L1036.6 309.3L1037.2 307.9L1037.9 306.5L1038.5 305.1L1039.2 304.0L1040.0 303.1L1040.6 302.7L1041.2 302.4L1041.9 302.2L1042.6 302.1L1043.3 302.0L1044.0 302.0L1044.9 302.0L1045.9 302.1L1046.9 302.2L1047.9 302.4L1048.9 302.7L1049.8 303.1L1050.7 303.7L1051.6 304.4L1052.5 305.3L1053.3 306.2L1054.2 307.1L1055.0 308.0L1055.8 308.9L1056.7 310.0L1057.5 311.1L1058.3 312.1L1059.1 312.8L1060.0 313.0L1061.1 312.5L1062.1 311.4L1063.2 309.9L1064.3 308.2L1065.4 306.5L1066.5 305.1L1067.4 304.1L1068.2 303.0L1069.1 302.0L1069.9 301.1L1070.8 300.4L1071.7 299.9L1072.5 299.7L1073.4 299.6L1074.3 299.6L1075.3 299.8L1076.1 300.1L1076.9 300.6L1078.0 301.8L1078.9 303.6L1079.8 305.8L1080.5 308.2L1081.3 310.6L1082.1 312.9L1083.0 315.2L1083.9 317.6L1084.8 320.1L1085.7 322.5L1086.5 324.9L1087.3 327.2L1087.9 329.4L1088.3 331.9L1088.7 334.4L1089.2 336.5L1089.8 338.2L1090.6 339.0L1091.4 339.0L1092.3 338.4L1093.3 337.6L1094.3 336.6L1095.4 335.7L1096.4 335.0L1097.5 334.4L1098.6 333.8L1099.8 333.2L1101.0 332.7L1102.0 332.4L1102.9 332.4L1103.4 332.6L1103.9 332.9L1104.3 333.3L1104.7 333.8L1105.1 334.4L1105.5 335.0L1106.2 336.5L1106.9 338.5L1107.6 340.8L1108.2 343.2L1108.8 345.6L1109.4 348.0L1110.1 350.5L1110.8 353.0L1111.5 355.6L1112.1 358.2L1112.7 360.9L1113.3 363.6L1113.8 366.5L1114.3 369.6L1114.7 372.6L1115.1 375.7L1115.5 378.7L1115.9 381.8L1116.3 384.9L1116.8 388.0L1117.2 391.1L1117.6 394.2L1118.0 397.2L1118.5 400.0L1118.9 402.5L1119.2 405.2L1119.5 407.9L1119.9 410.2L1120.4 411.8L1121.0 412.5L1121.6 412.2L1122.2 411.4L1122.9 410.1L1123.6 408.7L1124.3 407.3L1125.0 406.0L1125.7 404.7L1126.5 403.1L1127.3 401.6L1128.1 400.2L1128.8 399.3L1129.5 399.0L1130.1 399.5L1130.6 400.6L1131.1 402.2L1131.6 404.1L1132.0 406.1L1132.5 408.0L1133.2 411.1L1134.0 414.6L1134.7 418.4L1135.4 422.4L1136.1 426.3L1136.7 430.0L1137.2 433.3L1137.7 436.4L1138.2 439.5L1138.6 442.7L1139.1 446.2L1139.5 450.3L1140.3 459.2L1141.0 469.6L1141.7 481.1L1142.3 493.2L1142.9 505.3L1143.5 516.8L1144.0 528.4L1144.4 540.5L1144.8 552.6L1145.2 564.2L1145.5 574.7L1145.8 583.6L1146.0 587.7L1146.1 591.5L1146.2 594.9L1146.4 598.1L1146.5 601.0L1146.6 603.6L1146.7 605.0L1146.7 606.3L1146.8 607.5L1146.9 608.7L1146.9 609.8L1147.0 611.0L1147.1 609.8L1147.3 608.7L1147.4 607.5L1147.5 606.3L1147.6 605.0L1147.8 603.6L1148.1 600.9L1148.4 597.8L1148.8 594.5L1149.2 591.0L1149.6 587.3L1150.0 583.6L1150.6 578.6L1151.3 573.4L1152.0 567.9L1152.7 562.2L1153.4 556.3L1154.0 550.2L1154.7 542.4L1155.2 534.3L1155.8 525.8L1156.3 517.2L1156.8 508.6L1157.3 500.1L1157.8 491.6L1158.4 483.0L1158.9 474.4L1159.4 465.9L1159.9 457.8L1160.3 450.0L1160.6 444.1L1160.9 438.6L1161.2 433.3L1161.5 428.0L1161.7 422.6L1162.0 416.9L1162.3 409.9L1162.6 402.4L1162.9 394.7L1163.2 387.3L1163.6 380.7L1164.0 375.2L1164.2 373.0L1164.5 371.1L1164.7 369.4L1165.0 367.8L1165.2 366.1L1165.5 364.2L1165.9 361.4L1166.3 358.3L1166.7 355.0L1167.2 351.8L1167.6 348.8L1168.1 346.1L1168.4 344.3L1168.8 342.6L1169.1 341.0L1169.4 339.5L1169.8 338.2L1170.3 337.0L1170.6 336.3L1170.9 335.7L1171.3 335.2L1171.6 334.7L1172.0 334.2L1172.5 333.8L1173.0 333.5L1173.6 333.2L1174.2 333.0L1174.8 332.7L1175.4 332.5L1176.0 332.2L1176.6 331.8L1177.2 331.4L1177.8 331.0L1178.4 330.5L1179.0 330.0L1179.6 329.6L1179.9 331.0L1180.2 332.4L1180.5 333.8L1180.8 335.2L1181.1 336.6L1181.4 338.0L1181.6 339.3L1181.8 340.7L1181.9 342.0L1182.1 343.4L1182.3 344.7L1182.6 346.0L1182.9 347.3L1183.3 348.6L1183.7 349.9L1184.1 351.1L1184.6 352.4L1185.2 353.8L1186.1 355.6L1187.2 357.4L1188.3 359.3L1189.5 361.2L1190.8 363.1L1192.0 365.0L1193.3 367.0L1194.6 369.1L1196.0 371.2L1197.3 373.3L1198.6 375.3L1199.9 377.2L1201.0 378.7L1202.0 380.2L1203.1 381.6L1204.1 383.0L1205.1 384.5L1206.0 386.0L1206.9 387.7L1207.9 389.5L1208.7 391.3L1209.5 393.2L1210.3 395.1L1211.0 397.0L1211.6 399.1L1212.1 401.2L1212.6 403.4L1213.0 405.5L1213.5 407.8L1214.0 410.0L1214.6 412.4L1215.3 414.9L1216.0 417.4L1216.7 420.0L1217.4 422.5L1218.0 425.0L1218.6 427.5L1219.2 430.0L1219.8 432.4L1220.4 434.9L1220.9 437.4L1221.5 440.0L1222.1 442.8L1222.6 445.7L1223.2 448.7L1223.7 451.6L1224.3 454.6L1224.8 457.5L1225.5 455.8L1226.2 454.1L1226.8 452.5L1227.5 450.8L1228.3 448.9L1229.0 447.0L1230.1 444.1L1231.3 440.9L1232.6 437.6L1233.8 434.2L1235.0 430.7L1236.1 427.2L1237.2 423.3L1238.2 419.1L1239.2 414.8L1240.1 410.7L1241.0 407.0L1241.9 404.0L1242.4 402.6L1242.8 401.4L1243.2 400.2L1243.7 399.2L1244.2 398.3L1244.8 397.5L1245.3 396.9L1245.9 396.4L1246.5 396.0L1247.2 395.6L1247.8 395.4L1248.4 395.4L1249.1 395.7L1249.9 396.2L1250.6 396.9L1251.4 397.8L1252.1 398.7L1252.7 399.7L1253.5 401.1L1254.1 402.6L1254.7 404.2L1255.3 406.0L1255.8 407.8L1256.4 409.8L1257.2 412.8L1258.0 416.1L1258.8 419.6L1259.5 423.2L1260.2 426.7L1260.7 430.1L1261.1 433.2L1261.3 436.3L1261.5 439.4L1261.7 442.4L1261.9 445.1L1262.1 447.4L1262.3 448.5L1262.5 449.6L1262.6 450.5L1262.8 451.4L1263.0 452.3L1263.2 453.2L1263.4 451.8L1263.7 450.5L1263.9 449.2L1264.1 447.8L1264.4 446.3L1264.6 444.5L1265.0 439.8L1265.4 434.0L1265.8 427.6L1266.2 420.8L1266.7 414.3L1267.2 408.4L1267.7 403.9L1268.3 399.5L1268.9 395.2L1269.5 391.1L1270.1 387.3L1270.8 383.8L1271.2 381.6L1271.7 379.4L1272.1 377.4L1272.6 375.5L1273.1 373.8L1273.7 372.3L1274.1 371.3L1274.6 370.3L1275.1 369.4L1275.6 368.6L1276.1 368.1L1276.6 367.9L1277.2 368.1L1277.8 368.6L1278.4 369.4L1279.0 370.3L1279.6 371.3L1280.2 372.3L1280.9 373.5L1281.5 374.8L1282.1 376.1L1282.6 377.6L1283.2 379.2L1283.8 380.9L1284.8 384.2L1285.8 388.0L1286.8 392.1L1287.8 396.4L1288.8 400.4L1289.6 404.0L1290.2 406.5L1290.7 409.0L1291.1 411.4L1291.6 413.6L1292.0 415.5L1292.5 417.1L1292.7 417.8L1293.0 418.4L1293.2 419.0L1293.4 419.5L1293.7 419.8L1293.9 419.9L1294.2 419.6L1294.5 419.0L1294.8 418.0L1295.1 416.9L1295.4 415.6L1295.7 414.2L1296.2 410.6L1296.7 406.0L1297.1 400.7L1297.5 395.0L1297.9 389.3L1298.3 383.8L1298.8 377.8L1299.3 371.6L1299.8 365.3L1300.4 359.1L1301.1 353.1L1301.9 347.7L1302.6 343.8L1303.2 340.1L1303.9 336.5L1304.8 333.2L1305.7 330.1L1306.9 327.5L1307.9 325.8L1309.0 324.1L1310.1 322.5L1311.3 321.2L1312.4 320.4L1313.4 320.2L1314.3 320.9L1315.2 322.3L1315.9 324.4L1316.6 326.8L1317.2 329.3L1317.8 331.8L1318.5 335.5L1319.0 339.5L1319.5 343.9L1319.8 348.5L1320.2 353.1L1320.7 357.8L1321.4 363.3L1322.1 369.0L1322.8 374.8L1323.5 380.7L1324.3 386.7L1325.0 392.5L1325.7 398.3L1326.5 404.1L1327.2 409.8L1328.0 415.6L1328.7 421.4L1329.3 427.2L1329.9 432.8L1330.4 438.3L1330.9 443.7L1331.4 449.3L1331.8 455.3L1332.2 461.8L1332.6 472.2L1332.9 483.6L1333.0 495.7L1333.2 508.2L1333.4 520.9L1333.7 533.5L1334.2 547.2L1334.8 561.3L1335.4 575.5L1336.0 589.8L1336.6 603.7L1337.1 617.0L1337.4 628.0L1337.7 638.4L1338.0 648.7L1338.3 659.0L1338.5 669.6L1338.7 681.0L1339.0 696.8L1339.2 714.3L1339.3 732.3L1339.5 749.9L1339.7 766.2L1340.0 780.0L1340.2 786.9L1340.3 793.2L1340.5 799.0L1340.7 804.4L1340.9 809.7L1341.2 815.0L1341.4 819.5L1341.7 824.0L1341.9 828.3L1342.2 832.4L1342.7 836.3L1343.4 839.7L1344.0 841.8L1344.6 843.7L1345.3 845.4L1346.1 847.1L1347.0 848.7L1348.0 850.2L1349.3 851.7L1350.8 853.2L1352.4 854.5L1354.1 855.8L1355.8 857.1L1357.4 858.4L1358.9 859.6L1360.3 860.7L1361.8 861.8L1363.3 862.9L1364.9 864.1L1366.7 865.4L1370.0 867.6L1373.7 870.1L1377.7 872.7L1381.9 875.3L1386.1 878.0L1390.1 880.6L1394.0 883.2L1397.9 885.7L1401.8 888.3L1405.7 890.9L1409.6 893.4L1413.5 895.8L1417.4 898.1L1421.2 900.4L1425.1 902.7L1429.0 904.8L1432.9 906.8L1436.9 908.7L1440.7 910.3L1444.6 911.8L1448.5 913.1L1452.4 914.4L1456.3 915.6L1460.2 916.8L1464.1 918.0L1468.0 919.2L1471.9 920.3L1475.8 921.4L1479.7 922.4L1483.6 923.4L1487.4 924.3L1491.1 925.2L1494.8 926.0L1498.6 926.8L1502.6 927.6L1507.0 928.5L1513.8 929.9L1521.4 931.3L1529.3 932.8L1537.5 934.3L1545.7 935.6L1553.7 936.7L1561.5 937.6L1569.2 938.3L1577.0 938.9L1584.8 939.3L1592.6 939.8L1600.4 940.2L1608.1 940.6L1615.6 941.0L1623.2 941.3L1630.9 941.5L1638.9 941.7L1647.2 941.9L1658.0 942.0L1669.4 942.1L1681.2 942.0L1693.2 942.0L1705.2 941.9L1717.0 941.9"/>
</g>
<text class="tick" x="275.3" y="1232.3" text-anchor="middle">-200</text>
<text class="tick" x="635.375" y="1232.3" text-anchor="middle">-100</text>
<text class="tick" x="995.45" y="1232.3" text-anchor="middle">0</text>
<text class="tick" x="1355.52" y="1232.3" text-anchor="middle">100</text>
<text class="tick" x="1715.6" y="1232.3" text-anchor="middle">200</text>
<text class="tick" x="249.3" y="83.2" text-anchor="end">40</text>
<text class="tick" x="249.3" y="351" text-anchor="end">20</text>
<text class="tick" x="249.3" y="618.8" text-anchor="end">0</text>
<text class="tick" x="249.3" y="886.6" text-anchor="end">-20</text>
<text class="tick" x="249.3" y="1154.4" text-anchor="end">-40</text>
<text class="lab" x="995.5" y="1344" text-anchor="middle">Range (m)</text>
<text class="lab" transform="translate(96.5 587) rotate(-90)" text-anchor="middle">Magnitude (dB)</text>
<path class="c" stroke="#ff0000" d="M1396.5 133.4H1532"/>
<text class="leg" x="1542" y="162.8">1.0s</text>
<path class="c" stroke="#00ff00" d="M1396.5 225.5H1532"/>
<text class="leg" x="1542" y="254.9">3.1s</text>
<path class="c" stroke="#00ffff" d="M1396.5 317.6H1532"/>
<text class="leg" x="1542" y="347">5.2s</text>
<path class="c" stroke="#ff00ff" d="M1396.5 409.7H1532"/>
<text class="leg" x="1542" y="439.1">7.3s</text>
<path class="c" stroke="#0000ff" d="M1396.5 501.8H1532" stroke-dasharray="35.4 8.3 15.9 10.1 34.3 8.3 40"/>
<text class="leg" x="1542" y="531.2">9.4s</text>
</svg>
</body>
</html>
